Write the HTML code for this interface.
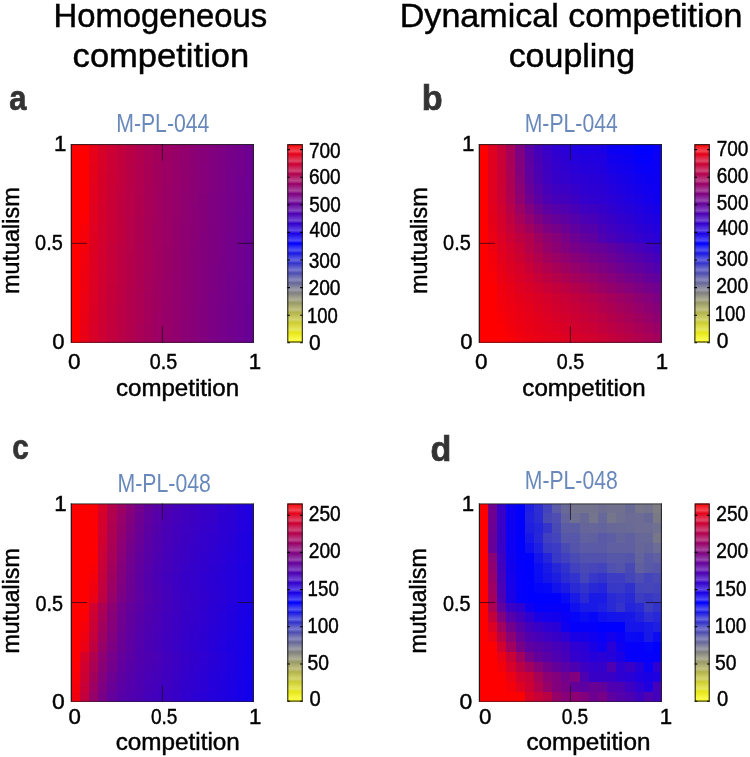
<!DOCTYPE html>
<html><head><meta charset="utf-8"><style>
html,body{margin:0;padding:0;background:#fff;}
svg{display:block;font-family:"Liberation Sans",sans-serif;will-change:transform;}
</style></head><body>
<svg width="750" height="757" viewBox="0 0 750 757">
<defs>
<linearGradient id="cb" x1="0" y1="1" x2="0" y2="0">
<stop offset="0" stop-color="rgb(255,255,0)"/><stop offset="0.25" stop-color="rgb(128,128,128)"/><stop offset="0.5" stop-color="rgb(0,0,255)"/><stop offset="1" stop-color="rgb(255,0,0)"/>
</linearGradient>
<linearGradient id="band" x1="0" y1="0" x2="0" y2="1">
<stop offset="0" stop-color="#fff" stop-opacity="0"/><stop offset="0.7" stop-color="#fff" stop-opacity="0.28"/><stop offset="1" stop-color="#fff" stop-opacity="0"/>
</linearGradient>
</defs>
<rect width="750" height="757" fill="#fff"/>
<text transform="translate(53.47,26.70) scale(1.0099,1)" font-size="32.54" fill="#000" font-weight="normal" stroke="#000" stroke-width="0.45">Homogeneous</text>
<text transform="translate(72.62,67.20) scale(1.0617,1)" font-size="32.54" fill="#000" font-weight="normal" stroke="#000" stroke-width="0.45">competition</text>
<text transform="translate(399.77,26.70) scale(1.0473,1)" font-size="32.54" fill="#000" font-weight="normal" stroke="#000" stroke-width="0.45">Dynamical competition</text>
<text transform="translate(508.64,67.20) scale(1.0441,1)" font-size="32.54" fill="#000" font-weight="normal" stroke="#000" stroke-width="0.45">coupling</text>
<text transform="translate(9.37,110.00) scale(0.8619,1)" font-size="36.00" fill="#333" font-weight="bold" stroke="#333" stroke-width="0.7">a</text>
<text transform="translate(421.77,110.00) scale(0.9930,1)" font-size="34.50" fill="#333" font-weight="bold" stroke="#333" stroke-width="0.7">b</text>
<text transform="translate(12.31,459.00) scale(0.8247,1)" font-size="36.00" fill="#333" font-weight="bold" stroke="#333" stroke-width="0.7">c</text>
<text transform="translate(430.44,461.00) scale(0.9872,1)" font-size="34.50" fill="#333" font-weight="bold" stroke="#333" stroke-width="0.7">d</text>
<text transform="translate(116.20,131.50) scale(0.8106,1)" font-size="26.20" fill="rgb(106,137,187)" font-weight="normal">M-PL-044</text>
<text transform="translate(524.70,131.70) scale(0.8097,1)" font-size="26.20" fill="rgb(106,137,187)" font-weight="normal">M-PL-044</text>
<text transform="translate(117.50,492.00) scale(0.8125,1)" font-size="26.20" fill="rgb(106,137,187)" font-weight="normal">M-PL-048</text>
<text transform="translate(524.81,489.30) scale(0.8081,1)" font-size="26.20" fill="rgb(106,137,187)" font-weight="normal">M-PL-048</text>
<g shape-rendering="crispEdges"><rect x="70.80" y="144.20" width="9.66" height="10.42" fill="rgb(255, 0, 0)"/><rect x="79.95" y="144.20" width="9.66" height="10.42" fill="rgb(255, 0, 0)"/><rect x="89.11" y="144.20" width="9.66" height="10.42" fill="rgb(231, 0, 24)"/><rect x="98.27" y="144.20" width="9.66" height="10.42" fill="rgb(215, 0, 40)"/><rect x="107.42" y="144.20" width="9.66" height="10.42" fill="rgb(204, 0, 51)"/><rect x="116.58" y="144.20" width="9.66" height="10.42" fill="rgb(194, 0, 61)"/><rect x="125.73" y="144.20" width="9.66" height="10.42" fill="rgb(185, 0, 70)"/><rect x="134.88" y="144.20" width="9.66" height="10.42" fill="rgb(177, 0, 78)"/><rect x="144.04" y="144.20" width="9.66" height="10.42" fill="rgb(170, 0, 85)"/><rect x="153.19" y="144.20" width="9.66" height="10.42" fill="rgb(163, 0, 92)"/><rect x="162.35" y="144.20" width="9.66" height="10.42" fill="rgb(157, 0, 98)"/><rect x="171.50" y="144.20" width="9.66" height="10.42" fill="rgb(151, 0, 104)"/><rect x="180.66" y="144.20" width="9.66" height="10.42" fill="rgb(145, 0, 110)"/><rect x="189.81" y="144.20" width="9.66" height="10.42" fill="rgb(139, 0, 116)"/><rect x="198.97" y="144.20" width="9.66" height="10.42" fill="rgb(134, 0, 121)"/><rect x="208.12" y="144.20" width="9.66" height="10.42" fill="rgb(129, 0, 126)"/><rect x="217.28" y="144.20" width="9.66" height="10.42" fill="rgb(124, 0, 131)"/><rect x="226.44" y="144.20" width="9.66" height="10.42" fill="rgb(119, 0, 136)"/><rect x="235.59" y="144.20" width="9.66" height="10.42" fill="rgb(114, 0, 141)"/><rect x="244.75" y="144.20" width="9.16" height="10.42" fill="rgb(110, 0, 145)"/><rect x="70.80" y="154.11" width="9.66" height="10.42" fill="rgb(255, 0, 0)"/><rect x="79.95" y="154.11" width="9.66" height="10.42" fill="rgb(255, 0, 0)"/><rect x="89.11" y="154.11" width="9.66" height="10.42" fill="rgb(230, 0, 25)"/><rect x="98.27" y="154.11" width="9.66" height="10.42" fill="rgb(215, 0, 40)"/><rect x="107.42" y="154.11" width="9.66" height="10.42" fill="rgb(203, 0, 52)"/><rect x="116.58" y="154.11" width="9.66" height="10.42" fill="rgb(193, 0, 62)"/><rect x="125.73" y="154.11" width="9.66" height="10.42" fill="rgb(185, 0, 70)"/><rect x="134.88" y="154.11" width="9.66" height="10.42" fill="rgb(177, 0, 78)"/><rect x="144.04" y="154.11" width="9.66" height="10.42" fill="rgb(170, 0, 85)"/><rect x="153.19" y="154.11" width="9.66" height="10.42" fill="rgb(163, 0, 92)"/><rect x="162.35" y="154.11" width="9.66" height="10.42" fill="rgb(156, 0, 99)"/><rect x="171.50" y="154.11" width="9.66" height="10.42" fill="rgb(150, 0, 105)"/><rect x="180.66" y="154.11" width="9.66" height="10.42" fill="rgb(145, 0, 110)"/><rect x="189.81" y="154.11" width="9.66" height="10.42" fill="rgb(139, 0, 116)"/><rect x="198.97" y="154.11" width="9.66" height="10.42" fill="rgb(134, 0, 121)"/><rect x="208.12" y="154.11" width="9.66" height="10.42" fill="rgb(128, 0, 127)"/><rect x="217.28" y="154.11" width="9.66" height="10.42" fill="rgb(124, 0, 131)"/><rect x="226.44" y="154.11" width="9.66" height="10.42" fill="rgb(119, 0, 136)"/><rect x="235.59" y="154.11" width="9.66" height="10.42" fill="rgb(114, 0, 141)"/><rect x="244.75" y="154.11" width="9.16" height="10.42" fill="rgb(109, 0, 146)"/><rect x="70.80" y="164.03" width="9.66" height="10.42" fill="rgb(255, 0, 0)"/><rect x="79.95" y="164.03" width="9.66" height="10.42" fill="rgb(255, 0, 0)"/><rect x="89.11" y="164.03" width="9.66" height="10.42" fill="rgb(229, 0, 26)"/><rect x="98.27" y="164.03" width="9.66" height="10.42" fill="rgb(214, 0, 41)"/><rect x="107.42" y="164.03" width="9.66" height="10.42" fill="rgb(203, 0, 52)"/><rect x="116.58" y="164.03" width="9.66" height="10.42" fill="rgb(193, 0, 62)"/><rect x="125.73" y="164.03" width="9.66" height="10.42" fill="rgb(184, 0, 71)"/><rect x="134.88" y="164.03" width="9.66" height="10.42" fill="rgb(176, 0, 79)"/><rect x="144.04" y="164.03" width="9.66" height="10.42" fill="rgb(169, 0, 86)"/><rect x="153.19" y="164.03" width="9.66" height="10.42" fill="rgb(162, 0, 93)"/><rect x="162.35" y="164.03" width="9.66" height="10.42" fill="rgb(156, 0, 99)"/><rect x="171.50" y="164.03" width="9.66" height="10.42" fill="rgb(150, 0, 105)"/><rect x="180.66" y="164.03" width="9.66" height="10.42" fill="rgb(144, 0, 111)"/><rect x="189.81" y="164.03" width="9.66" height="10.42" fill="rgb(139, 0, 116)"/><rect x="198.97" y="164.03" width="9.66" height="10.42" fill="rgb(133, 0, 122)"/><rect x="208.12" y="164.03" width="9.66" height="10.42" fill="rgb(128, 0, 127)"/><rect x="217.28" y="164.03" width="9.66" height="10.42" fill="rgb(123, 0, 132)"/><rect x="226.44" y="164.03" width="9.66" height="10.42" fill="rgb(118, 0, 137)"/><rect x="235.59" y="164.03" width="9.66" height="10.42" fill="rgb(114, 0, 141)"/><rect x="244.75" y="164.03" width="9.16" height="10.42" fill="rgb(109, 0, 146)"/><rect x="70.80" y="173.94" width="9.66" height="10.42" fill="rgb(255, 0, 0)"/><rect x="79.95" y="173.94" width="9.66" height="10.42" fill="rgb(255, 0, 0)"/><rect x="89.11" y="173.94" width="9.66" height="10.42" fill="rgb(228, 0, 27)"/><rect x="98.27" y="173.94" width="9.66" height="10.42" fill="rgb(213, 0, 42)"/><rect x="107.42" y="173.94" width="9.66" height="10.42" fill="rgb(202, 0, 53)"/><rect x="116.58" y="173.94" width="9.66" height="10.42" fill="rgb(192, 0, 63)"/><rect x="125.73" y="173.94" width="9.66" height="10.42" fill="rgb(184, 0, 71)"/><rect x="134.88" y="173.94" width="9.66" height="10.42" fill="rgb(176, 0, 79)"/><rect x="144.04" y="173.94" width="9.66" height="10.42" fill="rgb(169, 0, 86)"/><rect x="153.19" y="173.94" width="9.66" height="10.42" fill="rgb(162, 0, 93)"/><rect x="162.35" y="173.94" width="9.66" height="10.42" fill="rgb(156, 0, 99)"/><rect x="171.50" y="173.94" width="9.66" height="10.42" fill="rgb(150, 0, 105)"/><rect x="180.66" y="173.94" width="9.66" height="10.42" fill="rgb(144, 0, 111)"/><rect x="189.81" y="173.94" width="9.66" height="10.42" fill="rgb(138, 0, 117)"/><rect x="198.97" y="173.94" width="9.66" height="10.42" fill="rgb(133, 0, 122)"/><rect x="208.12" y="173.94" width="9.66" height="10.42" fill="rgb(128, 0, 127)"/><rect x="217.28" y="173.94" width="9.66" height="10.42" fill="rgb(123, 0, 132)"/><rect x="226.44" y="173.94" width="9.66" height="10.42" fill="rgb(118, 0, 137)"/><rect x="235.59" y="173.94" width="9.66" height="10.42" fill="rgb(113, 0, 142)"/><rect x="244.75" y="173.94" width="9.16" height="10.42" fill="rgb(109, 0, 146)"/><rect x="70.80" y="183.86" width="9.66" height="10.42" fill="rgb(255, 0, 0)"/><rect x="79.95" y="183.86" width="9.66" height="10.42" fill="rgb(255, 0, 0)"/><rect x="89.11" y="183.86" width="9.66" height="10.42" fill="rgb(227, 0, 28)"/><rect x="98.27" y="183.86" width="9.66" height="10.42" fill="rgb(213, 0, 42)"/><rect x="107.42" y="183.86" width="9.66" height="10.42" fill="rgb(201, 0, 54)"/><rect x="116.58" y="183.86" width="9.66" height="10.42" fill="rgb(192, 0, 63)"/><rect x="125.73" y="183.86" width="9.66" height="10.42" fill="rgb(183, 0, 72)"/><rect x="134.88" y="183.86" width="9.66" height="10.42" fill="rgb(176, 0, 79)"/><rect x="144.04" y="183.86" width="9.66" height="10.42" fill="rgb(168, 0, 87)"/><rect x="153.19" y="183.86" width="9.66" height="10.42" fill="rgb(162, 0, 93)"/><rect x="162.35" y="183.86" width="9.66" height="10.42" fill="rgb(155, 0, 100)"/><rect x="171.50" y="183.86" width="9.66" height="10.42" fill="rgb(149, 0, 106)"/><rect x="180.66" y="183.86" width="9.66" height="10.42" fill="rgb(144, 0, 111)"/><rect x="189.81" y="183.86" width="9.66" height="10.42" fill="rgb(138, 0, 117)"/><rect x="198.97" y="183.86" width="9.66" height="10.42" fill="rgb(133, 0, 122)"/><rect x="208.12" y="183.86" width="9.66" height="10.42" fill="rgb(128, 0, 127)"/><rect x="217.28" y="183.86" width="9.66" height="10.42" fill="rgb(123, 0, 132)"/><rect x="226.44" y="183.86" width="9.66" height="10.42" fill="rgb(118, 0, 137)"/><rect x="235.59" y="183.86" width="9.66" height="10.42" fill="rgb(113, 0, 142)"/><rect x="244.75" y="183.86" width="9.16" height="10.42" fill="rgb(109, 0, 146)"/><rect x="70.80" y="193.77" width="9.66" height="10.42" fill="rgb(255, 0, 0)"/><rect x="79.95" y="193.77" width="9.66" height="10.42" fill="rgb(255, 0, 0)"/><rect x="89.11" y="193.77" width="9.66" height="10.42" fill="rgb(226, 0, 29)"/><rect x="98.27" y="193.77" width="9.66" height="10.42" fill="rgb(212, 0, 43)"/><rect x="107.42" y="193.77" width="9.66" height="10.42" fill="rgb(201, 0, 54)"/><rect x="116.58" y="193.77" width="9.66" height="10.42" fill="rgb(191, 0, 64)"/><rect x="125.73" y="193.77" width="9.66" height="10.42" fill="rgb(183, 0, 72)"/><rect x="134.88" y="193.77" width="9.66" height="10.42" fill="rgb(175, 0, 80)"/><rect x="144.04" y="193.77" width="9.66" height="10.42" fill="rgb(168, 0, 87)"/><rect x="153.19" y="193.77" width="9.66" height="10.42" fill="rgb(161, 0, 94)"/><rect x="162.35" y="193.77" width="9.66" height="10.42" fill="rgb(155, 0, 100)"/><rect x="171.50" y="193.77" width="9.66" height="10.42" fill="rgb(149, 0, 106)"/><rect x="180.66" y="193.77" width="9.66" height="10.42" fill="rgb(143, 0, 112)"/><rect x="189.81" y="193.77" width="9.66" height="10.42" fill="rgb(138, 0, 117)"/><rect x="198.97" y="193.77" width="9.66" height="10.42" fill="rgb(132, 0, 123)"/><rect x="208.12" y="193.77" width="9.66" height="10.42" fill="rgb(127, 0, 128)"/><rect x="217.28" y="193.77" width="9.66" height="10.42" fill="rgb(122, 0, 133)"/><rect x="226.44" y="193.77" width="9.66" height="10.42" fill="rgb(118, 0, 137)"/><rect x="235.59" y="193.77" width="9.66" height="10.42" fill="rgb(113, 0, 142)"/><rect x="244.75" y="193.77" width="9.16" height="10.42" fill="rgb(108, 0, 147)"/><rect x="70.80" y="203.69" width="9.66" height="10.42" fill="rgb(255, 0, 0)"/><rect x="79.95" y="203.69" width="9.66" height="10.42" fill="rgb(255, 0, 0)"/><rect x="89.11" y="203.69" width="9.66" height="10.42" fill="rgb(225, 0, 30)"/><rect x="98.27" y="203.69" width="9.66" height="10.42" fill="rgb(211, 0, 44)"/><rect x="107.42" y="203.69" width="9.66" height="10.42" fill="rgb(200, 0, 55)"/><rect x="116.58" y="203.69" width="9.66" height="10.42" fill="rgb(191, 0, 64)"/><rect x="125.73" y="203.69" width="9.66" height="10.42" fill="rgb(183, 0, 72)"/><rect x="134.88" y="203.69" width="9.66" height="10.42" fill="rgb(175, 0, 80)"/><rect x="144.04" y="203.69" width="9.66" height="10.42" fill="rgb(168, 0, 87)"/><rect x="153.19" y="203.69" width="9.66" height="10.42" fill="rgb(161, 0, 94)"/><rect x="162.35" y="203.69" width="9.66" height="10.42" fill="rgb(155, 0, 100)"/><rect x="171.50" y="203.69" width="9.66" height="10.42" fill="rgb(149, 0, 106)"/><rect x="180.66" y="203.69" width="9.66" height="10.42" fill="rgb(143, 0, 112)"/><rect x="189.81" y="203.69" width="9.66" height="10.42" fill="rgb(137, 0, 118)"/><rect x="198.97" y="203.69" width="9.66" height="10.42" fill="rgb(132, 0, 123)"/><rect x="208.12" y="203.69" width="9.66" height="10.42" fill="rgb(127, 0, 128)"/><rect x="217.28" y="203.69" width="9.66" height="10.42" fill="rgb(122, 0, 133)"/><rect x="226.44" y="203.69" width="9.66" height="10.42" fill="rgb(117, 0, 138)"/><rect x="235.59" y="203.69" width="9.66" height="10.42" fill="rgb(113, 0, 142)"/><rect x="244.75" y="203.69" width="9.16" height="10.42" fill="rgb(108, 0, 147)"/><rect x="70.80" y="213.60" width="9.66" height="10.42" fill="rgb(255, 0, 0)"/><rect x="79.95" y="213.60" width="9.66" height="10.42" fill="rgb(252, 0, 3)"/><rect x="89.11" y="213.60" width="9.66" height="10.42" fill="rgb(225, 0, 30)"/><rect x="98.27" y="213.60" width="9.66" height="10.42" fill="rgb(211, 0, 44)"/><rect x="107.42" y="213.60" width="9.66" height="10.42" fill="rgb(200, 0, 55)"/><rect x="116.58" y="213.60" width="9.66" height="10.42" fill="rgb(190, 0, 65)"/><rect x="125.73" y="213.60" width="9.66" height="10.42" fill="rgb(182, 0, 73)"/><rect x="134.88" y="213.60" width="9.66" height="10.42" fill="rgb(174, 0, 81)"/><rect x="144.04" y="213.60" width="9.66" height="10.42" fill="rgb(167, 0, 88)"/><rect x="153.19" y="213.60" width="9.66" height="10.42" fill="rgb(161, 0, 94)"/><rect x="162.35" y="213.60" width="9.66" height="10.42" fill="rgb(154, 0, 101)"/><rect x="171.50" y="213.60" width="9.66" height="10.42" fill="rgb(148, 0, 107)"/><rect x="180.66" y="213.60" width="9.66" height="10.42" fill="rgb(143, 0, 112)"/><rect x="189.81" y="213.60" width="9.66" height="10.42" fill="rgb(137, 0, 118)"/><rect x="198.97" y="213.60" width="9.66" height="10.42" fill="rgb(132, 0, 123)"/><rect x="208.12" y="213.60" width="9.66" height="10.42" fill="rgb(127, 0, 128)"/><rect x="217.28" y="213.60" width="9.66" height="10.42" fill="rgb(122, 0, 133)"/><rect x="226.44" y="213.60" width="9.66" height="10.42" fill="rgb(117, 0, 138)"/><rect x="235.59" y="213.60" width="9.66" height="10.42" fill="rgb(112, 0, 143)"/><rect x="244.75" y="213.60" width="9.16" height="10.42" fill="rgb(108, 0, 147)"/><rect x="70.80" y="223.52" width="9.66" height="10.42" fill="rgb(255, 0, 0)"/><rect x="79.95" y="223.52" width="9.66" height="10.42" fill="rgb(248, 0, 7)"/><rect x="89.11" y="223.52" width="9.66" height="10.42" fill="rgb(224, 0, 31)"/><rect x="98.27" y="223.52" width="9.66" height="10.42" fill="rgb(210, 0, 45)"/><rect x="107.42" y="223.52" width="9.66" height="10.42" fill="rgb(199, 0, 56)"/><rect x="116.58" y="223.52" width="9.66" height="10.42" fill="rgb(190, 0, 65)"/><rect x="125.73" y="223.52" width="9.66" height="10.42" fill="rgb(182, 0, 73)"/><rect x="134.88" y="223.52" width="9.66" height="10.42" fill="rgb(174, 0, 81)"/><rect x="144.04" y="223.52" width="9.66" height="10.42" fill="rgb(167, 0, 88)"/><rect x="153.19" y="223.52" width="9.66" height="10.42" fill="rgb(160, 0, 95)"/><rect x="162.35" y="223.52" width="9.66" height="10.42" fill="rgb(154, 0, 101)"/><rect x="171.50" y="223.52" width="9.66" height="10.42" fill="rgb(148, 0, 107)"/><rect x="180.66" y="223.52" width="9.66" height="10.42" fill="rgb(142, 0, 113)"/><rect x="189.81" y="223.52" width="9.66" height="10.42" fill="rgb(137, 0, 118)"/><rect x="198.97" y="223.52" width="9.66" height="10.42" fill="rgb(132, 0, 123)"/><rect x="208.12" y="223.52" width="9.66" height="10.42" fill="rgb(126, 0, 129)"/><rect x="217.28" y="223.52" width="9.66" height="10.42" fill="rgb(122, 0, 133)"/><rect x="226.44" y="223.52" width="9.66" height="10.42" fill="rgb(117, 0, 138)"/><rect x="235.59" y="223.52" width="9.66" height="10.42" fill="rgb(112, 0, 143)"/><rect x="244.75" y="223.52" width="9.16" height="10.42" fill="rgb(108, 0, 147)"/><rect x="70.80" y="233.44" width="9.66" height="10.42" fill="rgb(255, 0, 0)"/><rect x="79.95" y="233.44" width="9.66" height="10.42" fill="rgb(246, 0, 9)"/><rect x="89.11" y="233.44" width="9.66" height="10.42" fill="rgb(223, 0, 32)"/><rect x="98.27" y="233.44" width="9.66" height="10.42" fill="rgb(210, 0, 45)"/><rect x="107.42" y="233.44" width="9.66" height="10.42" fill="rgb(199, 0, 56)"/><rect x="116.58" y="233.44" width="9.66" height="10.42" fill="rgb(190, 0, 65)"/><rect x="125.73" y="233.44" width="9.66" height="10.42" fill="rgb(181, 0, 74)"/><rect x="134.88" y="233.44" width="9.66" height="10.42" fill="rgb(174, 0, 81)"/><rect x="144.04" y="233.44" width="9.66" height="10.42" fill="rgb(167, 0, 88)"/><rect x="153.19" y="233.44" width="9.66" height="10.42" fill="rgb(160, 0, 95)"/><rect x="162.35" y="233.44" width="9.66" height="10.42" fill="rgb(154, 0, 101)"/><rect x="171.50" y="233.44" width="9.66" height="10.42" fill="rgb(148, 0, 107)"/><rect x="180.66" y="233.44" width="9.66" height="10.42" fill="rgb(142, 0, 113)"/><rect x="189.81" y="233.44" width="9.66" height="10.42" fill="rgb(137, 0, 118)"/><rect x="198.97" y="233.44" width="9.66" height="10.42" fill="rgb(131, 0, 124)"/><rect x="208.12" y="233.44" width="9.66" height="10.42" fill="rgb(126, 0, 129)"/><rect x="217.28" y="233.44" width="9.66" height="10.42" fill="rgb(121, 0, 134)"/><rect x="226.44" y="233.44" width="9.66" height="10.42" fill="rgb(116, 0, 139)"/><rect x="235.59" y="233.44" width="9.66" height="10.42" fill="rgb(112, 0, 143)"/><rect x="244.75" y="233.44" width="9.16" height="10.42" fill="rgb(107, 0, 148)"/><rect x="70.80" y="243.35" width="9.66" height="10.42" fill="rgb(255, 0, 0)"/><rect x="79.95" y="243.35" width="9.66" height="10.42" fill="rgb(244, 0, 11)"/><rect x="89.11" y="243.35" width="9.66" height="10.42" fill="rgb(222, 0, 33)"/><rect x="98.27" y="243.35" width="9.66" height="10.42" fill="rgb(209, 0, 46)"/><rect x="107.42" y="243.35" width="9.66" height="10.42" fill="rgb(198, 0, 57)"/><rect x="116.58" y="243.35" width="9.66" height="10.42" fill="rgb(189, 0, 66)"/><rect x="125.73" y="243.35" width="9.66" height="10.42" fill="rgb(181, 0, 74)"/><rect x="134.88" y="243.35" width="9.66" height="10.42" fill="rgb(173, 0, 82)"/><rect x="144.04" y="243.35" width="9.66" height="10.42" fill="rgb(166, 0, 89)"/><rect x="153.19" y="243.35" width="9.66" height="10.42" fill="rgb(160, 0, 95)"/><rect x="162.35" y="243.35" width="9.66" height="10.42" fill="rgb(153, 0, 102)"/><rect x="171.50" y="243.35" width="9.66" height="10.42" fill="rgb(147, 0, 108)"/><rect x="180.66" y="243.35" width="9.66" height="10.42" fill="rgb(142, 0, 113)"/><rect x="189.81" y="243.35" width="9.66" height="10.42" fill="rgb(136, 0, 119)"/><rect x="198.97" y="243.35" width="9.66" height="10.42" fill="rgb(131, 0, 124)"/><rect x="208.12" y="243.35" width="9.66" height="10.42" fill="rgb(126, 0, 129)"/><rect x="217.28" y="243.35" width="9.66" height="10.42" fill="rgb(121, 0, 134)"/><rect x="226.44" y="243.35" width="9.66" height="10.42" fill="rgb(116, 0, 139)"/><rect x="235.59" y="243.35" width="9.66" height="10.42" fill="rgb(112, 0, 143)"/><rect x="244.75" y="243.35" width="9.16" height="10.42" fill="rgb(107, 0, 148)"/><rect x="70.80" y="253.26" width="9.66" height="10.42" fill="rgb(255, 0, 0)"/><rect x="79.95" y="253.26" width="9.66" height="10.42" fill="rgb(242, 0, 13)"/><rect x="89.11" y="253.26" width="9.66" height="10.42" fill="rgb(221, 0, 34)"/><rect x="98.27" y="253.26" width="9.66" height="10.42" fill="rgb(208, 0, 47)"/><rect x="107.42" y="253.26" width="9.66" height="10.42" fill="rgb(198, 0, 57)"/><rect x="116.58" y="253.26" width="9.66" height="10.42" fill="rgb(189, 0, 66)"/><rect x="125.73" y="253.26" width="9.66" height="10.42" fill="rgb(180, 0, 75)"/><rect x="134.88" y="253.26" width="9.66" height="10.42" fill="rgb(173, 0, 82)"/><rect x="144.04" y="253.26" width="9.66" height="10.42" fill="rgb(166, 0, 89)"/><rect x="153.19" y="253.26" width="9.66" height="10.42" fill="rgb(159, 0, 96)"/><rect x="162.35" y="253.26" width="9.66" height="10.42" fill="rgb(153, 0, 102)"/><rect x="171.50" y="253.26" width="9.66" height="10.42" fill="rgb(147, 0, 108)"/><rect x="180.66" y="253.26" width="9.66" height="10.42" fill="rgb(141, 0, 114)"/><rect x="189.81" y="253.26" width="9.66" height="10.42" fill="rgb(136, 0, 119)"/><rect x="198.97" y="253.26" width="9.66" height="10.42" fill="rgb(131, 0, 124)"/><rect x="208.12" y="253.26" width="9.66" height="10.42" fill="rgb(126, 0, 129)"/><rect x="217.28" y="253.26" width="9.66" height="10.42" fill="rgb(121, 0, 134)"/><rect x="226.44" y="253.26" width="9.66" height="10.42" fill="rgb(116, 0, 139)"/><rect x="235.59" y="253.26" width="9.66" height="10.42" fill="rgb(111, 0, 144)"/><rect x="244.75" y="253.26" width="9.16" height="10.42" fill="rgb(107, 0, 148)"/><rect x="70.80" y="263.18" width="9.66" height="10.42" fill="rgb(255, 0, 0)"/><rect x="79.95" y="263.18" width="9.66" height="10.42" fill="rgb(240, 0, 15)"/><rect x="89.11" y="263.18" width="9.66" height="10.42" fill="rgb(221, 0, 34)"/><rect x="98.27" y="263.18" width="9.66" height="10.42" fill="rgb(208, 0, 47)"/><rect x="107.42" y="263.18" width="9.66" height="10.42" fill="rgb(197, 0, 58)"/><rect x="116.58" y="263.18" width="9.66" height="10.42" fill="rgb(188, 0, 67)"/><rect x="125.73" y="263.18" width="9.66" height="10.42" fill="rgb(180, 0, 75)"/><rect x="134.88" y="263.18" width="9.66" height="10.42" fill="rgb(172, 0, 83)"/><rect x="144.04" y="263.18" width="9.66" height="10.42" fill="rgb(166, 0, 89)"/><rect x="153.19" y="263.18" width="9.66" height="10.42" fill="rgb(159, 0, 96)"/><rect x="162.35" y="263.18" width="9.66" height="10.42" fill="rgb(153, 0, 102)"/><rect x="171.50" y="263.18" width="9.66" height="10.42" fill="rgb(147, 0, 108)"/><rect x="180.66" y="263.18" width="9.66" height="10.42" fill="rgb(141, 0, 114)"/><rect x="189.81" y="263.18" width="9.66" height="10.42" fill="rgb(136, 0, 119)"/><rect x="198.97" y="263.18" width="9.66" height="10.42" fill="rgb(130, 0, 125)"/><rect x="208.12" y="263.18" width="9.66" height="10.42" fill="rgb(125, 0, 130)"/><rect x="217.28" y="263.18" width="9.66" height="10.42" fill="rgb(120, 0, 135)"/><rect x="226.44" y="263.18" width="9.66" height="10.42" fill="rgb(116, 0, 139)"/><rect x="235.59" y="263.18" width="9.66" height="10.42" fill="rgb(111, 0, 144)"/><rect x="244.75" y="263.18" width="9.16" height="10.42" fill="rgb(106, 0, 149)"/><rect x="70.80" y="273.10" width="9.66" height="10.42" fill="rgb(255, 0, 0)"/><rect x="79.95" y="273.10" width="9.66" height="10.42" fill="rgb(239, 0, 16)"/><rect x="89.11" y="273.10" width="9.66" height="10.42" fill="rgb(220, 0, 35)"/><rect x="98.27" y="273.10" width="9.66" height="10.42" fill="rgb(207, 0, 48)"/><rect x="107.42" y="273.10" width="9.66" height="10.42" fill="rgb(197, 0, 58)"/><rect x="116.58" y="273.10" width="9.66" height="10.42" fill="rgb(188, 0, 67)"/><rect x="125.73" y="273.10" width="9.66" height="10.42" fill="rgb(180, 0, 75)"/><rect x="134.88" y="273.10" width="9.66" height="10.42" fill="rgb(172, 0, 83)"/><rect x="144.04" y="273.10" width="9.66" height="10.42" fill="rgb(165, 0, 90)"/><rect x="153.19" y="273.10" width="9.66" height="10.42" fill="rgb(159, 0, 96)"/><rect x="162.35" y="273.10" width="9.66" height="10.42" fill="rgb(152, 0, 103)"/><rect x="171.50" y="273.10" width="9.66" height="10.42" fill="rgb(146, 0, 109)"/><rect x="180.66" y="273.10" width="9.66" height="10.42" fill="rgb(141, 0, 114)"/><rect x="189.81" y="273.10" width="9.66" height="10.42" fill="rgb(135, 0, 120)"/><rect x="198.97" y="273.10" width="9.66" height="10.42" fill="rgb(130, 0, 125)"/><rect x="208.12" y="273.10" width="9.66" height="10.42" fill="rgb(125, 0, 130)"/><rect x="217.28" y="273.10" width="9.66" height="10.42" fill="rgb(120, 0, 135)"/><rect x="226.44" y="273.10" width="9.66" height="10.42" fill="rgb(115, 0, 140)"/><rect x="235.59" y="273.10" width="9.66" height="10.42" fill="rgb(111, 0, 144)"/><rect x="244.75" y="273.10" width="9.16" height="10.42" fill="rgb(106, 0, 149)"/><rect x="70.80" y="283.01" width="9.66" height="10.42" fill="rgb(255, 0, 0)"/><rect x="79.95" y="283.01" width="9.66" height="10.42" fill="rgb(238, 0, 17)"/><rect x="89.11" y="283.01" width="9.66" height="10.42" fill="rgb(219, 0, 36)"/><rect x="98.27" y="283.01" width="9.66" height="10.42" fill="rgb(207, 0, 48)"/><rect x="107.42" y="283.01" width="9.66" height="10.42" fill="rgb(196, 0, 59)"/><rect x="116.58" y="283.01" width="9.66" height="10.42" fill="rgb(187, 0, 68)"/><rect x="125.73" y="283.01" width="9.66" height="10.42" fill="rgb(179, 0, 76)"/><rect x="134.88" y="283.01" width="9.66" height="10.42" fill="rgb(172, 0, 83)"/><rect x="144.04" y="283.01" width="9.66" height="10.42" fill="rgb(165, 0, 90)"/><rect x="153.19" y="283.01" width="9.66" height="10.42" fill="rgb(158, 0, 97)"/><rect x="162.35" y="283.01" width="9.66" height="10.42" fill="rgb(152, 0, 103)"/><rect x="171.50" y="283.01" width="9.66" height="10.42" fill="rgb(146, 0, 109)"/><rect x="180.66" y="283.01" width="9.66" height="10.42" fill="rgb(140, 0, 115)"/><rect x="189.81" y="283.01" width="9.66" height="10.42" fill="rgb(135, 0, 120)"/><rect x="198.97" y="283.01" width="9.66" height="10.42" fill="rgb(130, 0, 125)"/><rect x="208.12" y="283.01" width="9.66" height="10.42" fill="rgb(125, 0, 130)"/><rect x="217.28" y="283.01" width="9.66" height="10.42" fill="rgb(120, 0, 135)"/><rect x="226.44" y="283.01" width="9.66" height="10.42" fill="rgb(115, 0, 140)"/><rect x="235.59" y="283.01" width="9.66" height="10.42" fill="rgb(110, 0, 145)"/><rect x="244.75" y="283.01" width="9.16" height="10.42" fill="rgb(106, 0, 149)"/><rect x="70.80" y="292.93" width="9.66" height="10.42" fill="rgb(255, 0, 0)"/><rect x="79.95" y="292.93" width="9.66" height="10.42" fill="rgb(236, 0, 19)"/><rect x="89.11" y="292.93" width="9.66" height="10.42" fill="rgb(219, 0, 36)"/><rect x="98.27" y="292.93" width="9.66" height="10.42" fill="rgb(206, 0, 49)"/><rect x="107.42" y="292.93" width="9.66" height="10.42" fill="rgb(196, 0, 59)"/><rect x="116.58" y="292.93" width="9.66" height="10.42" fill="rgb(187, 0, 68)"/><rect x="125.73" y="292.93" width="9.66" height="10.42" fill="rgb(179, 0, 76)"/><rect x="134.88" y="292.93" width="9.66" height="10.42" fill="rgb(171, 0, 84)"/><rect x="144.04" y="292.93" width="9.66" height="10.42" fill="rgb(164, 0, 91)"/><rect x="153.19" y="292.93" width="9.66" height="10.42" fill="rgb(158, 0, 97)"/><rect x="162.35" y="292.93" width="9.66" height="10.42" fill="rgb(152, 0, 103)"/><rect x="171.50" y="292.93" width="9.66" height="10.42" fill="rgb(146, 0, 109)"/><rect x="180.66" y="292.93" width="9.66" height="10.42" fill="rgb(140, 0, 115)"/><rect x="189.81" y="292.93" width="9.66" height="10.42" fill="rgb(135, 0, 120)"/><rect x="198.97" y="292.93" width="9.66" height="10.42" fill="rgb(130, 0, 125)"/><rect x="208.12" y="292.93" width="9.66" height="10.42" fill="rgb(124, 0, 131)"/><rect x="217.28" y="292.93" width="9.66" height="10.42" fill="rgb(120, 0, 135)"/><rect x="226.44" y="292.93" width="9.66" height="10.42" fill="rgb(115, 0, 140)"/><rect x="235.59" y="292.93" width="9.66" height="10.42" fill="rgb(110, 0, 145)"/><rect x="244.75" y="292.93" width="9.16" height="10.42" fill="rgb(106, 0, 149)"/><rect x="70.80" y="302.84" width="9.66" height="10.42" fill="rgb(255, 0, 0)"/><rect x="79.95" y="302.84" width="9.66" height="10.42" fill="rgb(235, 0, 20)"/><rect x="89.11" y="302.84" width="9.66" height="10.42" fill="rgb(218, 0, 37)"/><rect x="98.27" y="302.84" width="9.66" height="10.42" fill="rgb(206, 0, 49)"/><rect x="107.42" y="302.84" width="9.66" height="10.42" fill="rgb(195, 0, 60)"/><rect x="116.58" y="302.84" width="9.66" height="10.42" fill="rgb(186, 0, 69)"/><rect x="125.73" y="302.84" width="9.66" height="10.42" fill="rgb(178, 0, 77)"/><rect x="134.88" y="302.84" width="9.66" height="10.42" fill="rgb(171, 0, 84)"/><rect x="144.04" y="302.84" width="9.66" height="10.42" fill="rgb(164, 0, 91)"/><rect x="153.19" y="302.84" width="9.66" height="10.42" fill="rgb(158, 0, 97)"/><rect x="162.35" y="302.84" width="9.66" height="10.42" fill="rgb(151, 0, 104)"/><rect x="171.50" y="302.84" width="9.66" height="10.42" fill="rgb(145, 0, 110)"/><rect x="180.66" y="302.84" width="9.66" height="10.42" fill="rgb(140, 0, 115)"/><rect x="189.81" y="302.84" width="9.66" height="10.42" fill="rgb(134, 0, 121)"/><rect x="198.97" y="302.84" width="9.66" height="10.42" fill="rgb(129, 0, 126)"/><rect x="208.12" y="302.84" width="9.66" height="10.42" fill="rgb(124, 0, 131)"/><rect x="217.28" y="302.84" width="9.66" height="10.42" fill="rgb(119, 0, 136)"/><rect x="226.44" y="302.84" width="9.66" height="10.42" fill="rgb(114, 0, 141)"/><rect x="235.59" y="302.84" width="9.66" height="10.42" fill="rgb(110, 0, 145)"/><rect x="244.75" y="302.84" width="9.16" height="10.42" fill="rgb(105, 0, 150)"/><rect x="70.80" y="312.75" width="9.66" height="10.42" fill="rgb(255, 0, 0)"/><rect x="79.95" y="312.75" width="9.66" height="10.42" fill="rgb(234, 0, 21)"/><rect x="89.11" y="312.75" width="9.66" height="10.42" fill="rgb(217, 0, 38)"/><rect x="98.27" y="312.75" width="9.66" height="10.42" fill="rgb(205, 0, 50)"/><rect x="107.42" y="312.75" width="9.66" height="10.42" fill="rgb(195, 0, 60)"/><rect x="116.58" y="312.75" width="9.66" height="10.42" fill="rgb(186, 0, 69)"/><rect x="125.73" y="312.75" width="9.66" height="10.42" fill="rgb(178, 0, 77)"/><rect x="134.88" y="312.75" width="9.66" height="10.42" fill="rgb(171, 0, 84)"/><rect x="144.04" y="312.75" width="9.66" height="10.42" fill="rgb(164, 0, 91)"/><rect x="153.19" y="312.75" width="9.66" height="10.42" fill="rgb(157, 0, 98)"/><rect x="162.35" y="312.75" width="9.66" height="10.42" fill="rgb(151, 0, 104)"/><rect x="171.50" y="312.75" width="9.66" height="10.42" fill="rgb(145, 0, 110)"/><rect x="180.66" y="312.75" width="9.66" height="10.42" fill="rgb(140, 0, 115)"/><rect x="189.81" y="312.75" width="9.66" height="10.42" fill="rgb(134, 0, 121)"/><rect x="198.97" y="312.75" width="9.66" height="10.42" fill="rgb(129, 0, 126)"/><rect x="208.12" y="312.75" width="9.66" height="10.42" fill="rgb(124, 0, 131)"/><rect x="217.28" y="312.75" width="9.66" height="10.42" fill="rgb(119, 0, 136)"/><rect x="226.44" y="312.75" width="9.66" height="10.42" fill="rgb(114, 0, 141)"/><rect x="235.59" y="312.75" width="9.66" height="10.42" fill="rgb(110, 0, 145)"/><rect x="244.75" y="312.75" width="9.16" height="10.42" fill="rgb(105, 0, 150)"/><rect x="70.80" y="322.67" width="9.66" height="10.42" fill="rgb(255, 0, 0)"/><rect x="79.95" y="322.67" width="9.66" height="10.42" fill="rgb(233, 0, 22)"/><rect x="89.11" y="322.67" width="9.66" height="10.42" fill="rgb(216, 0, 39)"/><rect x="98.27" y="322.67" width="9.66" height="10.42" fill="rgb(204, 0, 51)"/><rect x="107.42" y="322.67" width="9.66" height="10.42" fill="rgb(194, 0, 61)"/><rect x="116.58" y="322.67" width="9.66" height="10.42" fill="rgb(186, 0, 69)"/><rect x="125.73" y="322.67" width="9.66" height="10.42" fill="rgb(178, 0, 77)"/><rect x="134.88" y="322.67" width="9.66" height="10.42" fill="rgb(170, 0, 85)"/><rect x="144.04" y="322.67" width="9.66" height="10.42" fill="rgb(163, 0, 92)"/><rect x="153.19" y="322.67" width="9.66" height="10.42" fill="rgb(157, 0, 98)"/><rect x="162.35" y="322.67" width="9.66" height="10.42" fill="rgb(151, 0, 104)"/><rect x="171.50" y="322.67" width="9.66" height="10.42" fill="rgb(145, 0, 110)"/><rect x="180.66" y="322.67" width="9.66" height="10.42" fill="rgb(139, 0, 116)"/><rect x="189.81" y="322.67" width="9.66" height="10.42" fill="rgb(134, 0, 121)"/><rect x="198.97" y="322.67" width="9.66" height="10.42" fill="rgb(129, 0, 126)"/><rect x="208.12" y="322.67" width="9.66" height="10.42" fill="rgb(124, 0, 131)"/><rect x="217.28" y="322.67" width="9.66" height="10.42" fill="rgb(119, 0, 136)"/><rect x="226.44" y="322.67" width="9.66" height="10.42" fill="rgb(114, 0, 141)"/><rect x="235.59" y="322.67" width="9.66" height="10.42" fill="rgb(109, 0, 146)"/><rect x="244.75" y="322.67" width="9.16" height="10.42" fill="rgb(105, 0, 150)"/><rect x="70.80" y="332.59" width="9.66" height="9.92" fill="rgb(255, 0, 0)"/><rect x="79.95" y="332.59" width="9.66" height="9.92" fill="rgb(232, 0, 23)"/><rect x="89.11" y="332.59" width="9.66" height="9.92" fill="rgb(216, 0, 39)"/><rect x="98.27" y="332.59" width="9.66" height="9.92" fill="rgb(204, 0, 51)"/><rect x="107.42" y="332.59" width="9.66" height="9.92" fill="rgb(194, 0, 61)"/><rect x="116.58" y="332.59" width="9.66" height="9.92" fill="rgb(185, 0, 70)"/><rect x="125.73" y="332.59" width="9.66" height="9.92" fill="rgb(177, 0, 78)"/><rect x="134.88" y="332.59" width="9.66" height="9.92" fill="rgb(170, 0, 85)"/><rect x="144.04" y="332.59" width="9.66" height="9.92" fill="rgb(163, 0, 92)"/><rect x="153.19" y="332.59" width="9.66" height="9.92" fill="rgb(157, 0, 98)"/><rect x="162.35" y="332.59" width="9.66" height="9.92" fill="rgb(150, 0, 105)"/><rect x="171.50" y="332.59" width="9.66" height="9.92" fill="rgb(145, 0, 110)"/><rect x="180.66" y="332.59" width="9.66" height="9.92" fill="rgb(139, 0, 116)"/><rect x="189.81" y="332.59" width="9.66" height="9.92" fill="rgb(134, 0, 121)"/><rect x="198.97" y="332.59" width="9.66" height="9.92" fill="rgb(128, 0, 127)"/><rect x="208.12" y="332.59" width="9.66" height="9.92" fill="rgb(123, 0, 132)"/><rect x="217.28" y="332.59" width="9.66" height="9.92" fill="rgb(118, 0, 137)"/><rect x="226.44" y="332.59" width="9.66" height="9.92" fill="rgb(114, 0, 141)"/><rect x="235.59" y="332.59" width="9.66" height="9.92" fill="rgb(109, 0, 146)"/><rect x="244.75" y="332.59" width="9.16" height="9.92" fill="rgb(105, 0, 150)"/></g>
<path d="M71.3 144.2V342.5" stroke="#1a1a1a" stroke-width="1.2" fill="none"/><path d="M70.8 144.6H253.9" stroke="#222" stroke-width="0.9" fill="none"/><path d="M253.3 144.2V342.5" stroke="#222" stroke-width="1.0" fill="none"/><path d="M70.8 342.3H253.9" stroke="#222" stroke-width="0.6" fill="none"/>
<path d="M162.35 144.2v16.3M162.35 342.5v-16.3M71.39999999999999 243.35h15.700000000000001M253.3 243.35h-15.700000000000001" stroke="#1a0a1a" stroke-width="0.75" fill="none"/>
<rect x="287.3" y="144.2" width="15.5" height="198.3" fill="url(#cb)"/>
<rect x="287.3" y="144.20" width="15.5" height="9.92" fill="url(#band)"/><rect x="287.3" y="154.11" width="15.5" height="9.92" fill="url(#band)"/><rect x="287.3" y="164.03" width="15.5" height="9.92" fill="url(#band)"/><rect x="287.3" y="173.94" width="15.5" height="9.92" fill="url(#band)"/><rect x="287.3" y="183.86" width="15.5" height="9.92" fill="url(#band)"/><rect x="287.3" y="193.77" width="15.5" height="9.92" fill="url(#band)"/><rect x="287.3" y="203.69" width="15.5" height="9.92" fill="url(#band)"/><rect x="287.3" y="213.60" width="15.5" height="9.92" fill="url(#band)"/><rect x="287.3" y="223.52" width="15.5" height="9.92" fill="url(#band)"/><rect x="287.3" y="233.44" width="15.5" height="9.92" fill="url(#band)"/><rect x="287.3" y="243.35" width="15.5" height="9.92" fill="url(#band)"/><rect x="287.3" y="253.26" width="15.5" height="9.92" fill="url(#band)"/><rect x="287.3" y="263.18" width="15.5" height="9.92" fill="url(#band)"/><rect x="287.3" y="273.10" width="15.5" height="9.92" fill="url(#band)"/><rect x="287.3" y="283.01" width="15.5" height="9.92" fill="url(#band)"/><rect x="287.3" y="292.93" width="15.5" height="9.92" fill="url(#band)"/><rect x="287.3" y="302.84" width="15.5" height="9.92" fill="url(#band)"/><rect x="287.3" y="312.75" width="15.5" height="9.92" fill="url(#band)"/><rect x="287.3" y="322.67" width="15.5" height="9.92" fill="url(#band)"/><rect x="287.3" y="332.59" width="15.5" height="9.92" fill="url(#band)"/><rect x="287.8" y="144.7" width="14.5" height="197.3" fill="none" stroke="#181818" stroke-width="1.0"/>
<text transform="translate(309.06,349.60) scale(0.9436,1)" font-size="22.30" fill="#000" font-weight="normal" stroke="#000" stroke-width="0.45">0</text>
<text transform="translate(307.01,322.80) scale(0.8305,1)" font-size="22.30" fill="#000" font-weight="normal" stroke="#000" stroke-width="0.45">100</text>
<text transform="translate(308.44,294.70) scale(0.8628,1)" font-size="22.30" fill="#000" font-weight="normal" stroke="#000" stroke-width="0.45">200</text>
<text transform="translate(308.64,268.10) scale(0.8574,1)" font-size="22.30" fill="#000" font-weight="normal" stroke="#000" stroke-width="0.45">300</text>
<text transform="translate(309.53,236.70) scale(0.8384,1)" font-size="22.30" fill="#000" font-weight="normal" stroke="#000" stroke-width="0.45">400</text>
<text transform="translate(309.14,212.30) scale(0.8489,1)" font-size="22.30" fill="#000" font-weight="normal" stroke="#000" stroke-width="0.45">500</text>
<text transform="translate(308.95,184.40) scale(0.8543,1)" font-size="22.30" fill="#000" font-weight="normal" stroke="#000" stroke-width="0.45">600</text>
<text transform="translate(308.95,157.50) scale(0.8543,1)" font-size="22.30" fill="#000" font-weight="normal" stroke="#000" stroke-width="0.45">700</text>
<text transform="translate(53.98,150.50) scale(1.0000,1)" font-size="22.30" fill="#000" font-weight="normal" stroke="#000" stroke-width="0.45">1</text>
<text transform="translate(35.10,250.30) scale(0.8934,1)" font-size="22.30" fill="#000" font-weight="normal" stroke="#000" stroke-width="0.45">0.5</text>
<text transform="translate(52.32,348.70) scale(0.9903,1)" font-size="22.30" fill="#000" font-weight="normal" stroke="#000" stroke-width="0.45">0</text>
<text transform="translate(68.10,369.40) scale(1.0090,1)" font-size="22.30" fill="#000" font-weight="normal" stroke="#000" stroke-width="0.45">0</text>
<text transform="translate(149.81,369.40) scale(0.8832,1)" font-size="22.30" fill="#000" font-weight="normal" stroke="#000" stroke-width="0.45">0.5</text>
<text transform="translate(248.73,369.40) scale(1.0000,1)" font-size="22.30" fill="#000" font-weight="normal" stroke="#000" stroke-width="0.45">1</text>
<text transform="translate(115.94,395.80) scale(1.0348,1)" font-size="23.30" fill="#000" font-weight="normal" stroke="#000" stroke-width="0.45">competition</text>
<text transform="translate(18.90,294.02) rotate(-90) scale(1.0056,1)" font-size="23.30" fill="#000" font-weight="normal" stroke="#000" stroke-width="0.45">mutualism</text>
<path d="M287.3 342.80h2.6M302.8 342.80h-2.6M287.3 315.20h2.6M302.8 315.20h-2.6M287.3 287.60h2.6M302.8 287.60h-2.6M287.3 260.00h2.6M302.8 260.00h-2.6M287.3 232.40h2.6M302.8 232.40h-2.6M287.3 204.80h2.6M302.8 204.80h-2.6M287.3 177.20h2.6M302.8 177.20h-2.6M287.3 149.60h2.6M302.8 149.60h-2.6" stroke="#000" stroke-width="1.1" fill="none"/>
<g shape-rendering="crispEdges"><rect x="478.80" y="144.20" width="9.65" height="10.42" fill="rgb(255, 0, 0)"/><rect x="487.95" y="144.20" width="9.65" height="10.42" fill="rgb(224, 0, 31)"/><rect x="497.11" y="144.20" width="9.65" height="10.42" fill="rgb(199, 0, 56)"/><rect x="506.26" y="144.20" width="9.65" height="10.42" fill="rgb(166, 0, 89)"/><rect x="515.42" y="144.20" width="9.65" height="10.42" fill="rgb(125, 0, 130)"/><rect x="524.58" y="144.20" width="9.65" height="10.42" fill="rgb(89, 0, 166)"/><rect x="533.73" y="144.20" width="9.65" height="10.42" fill="rgb(69, 0, 186)"/><rect x="542.88" y="144.20" width="9.65" height="10.42" fill="rgb(56, 0, 199)"/><rect x="552.04" y="144.20" width="9.65" height="10.42" fill="rgb(46, 0, 209)"/><rect x="561.19" y="144.20" width="9.65" height="10.42" fill="rgb(41, 0, 214)"/><rect x="570.35" y="144.20" width="9.65" height="10.42" fill="rgb(31, 0, 224)"/><rect x="579.50" y="144.20" width="9.65" height="10.42" fill="rgb(28, 0, 227)"/><rect x="588.66" y="144.20" width="9.65" height="10.42" fill="rgb(28, 0, 227)"/><rect x="597.81" y="144.20" width="9.65" height="10.42" fill="rgb(26, 0, 229)"/><rect x="606.97" y="144.20" width="9.65" height="10.42" fill="rgb(13, 0, 242)"/><rect x="616.12" y="144.20" width="9.65" height="10.42" fill="rgb(10, 0, 245)"/><rect x="625.28" y="144.20" width="9.65" height="10.42" fill="rgb(8, 0, 247)"/><rect x="634.43" y="144.20" width="9.65" height="10.42" fill="rgb(0, 0, 255)"/><rect x="643.59" y="144.20" width="9.65" height="10.42" fill="rgb(0, 0, 255)"/><rect x="652.75" y="144.20" width="9.15" height="10.42" fill="rgb(10, 0, 245)"/><rect x="478.80" y="154.11" width="9.65" height="10.42" fill="rgb(255, 0, 0)"/><rect x="487.95" y="154.11" width="9.65" height="10.42" fill="rgb(224, 0, 31)"/><rect x="497.11" y="154.11" width="9.65" height="10.42" fill="rgb(200, 0, 55)"/><rect x="506.26" y="154.11" width="9.65" height="10.42" fill="rgb(168, 0, 87)"/><rect x="515.42" y="154.11" width="9.65" height="10.42" fill="rgb(128, 0, 127)"/><rect x="524.58" y="154.11" width="9.65" height="10.42" fill="rgb(92, 0, 163)"/><rect x="533.73" y="154.11" width="9.65" height="10.42" fill="rgb(72, 0, 183)"/><rect x="542.88" y="154.11" width="9.65" height="10.42" fill="rgb(59, 0, 196)"/><rect x="552.04" y="154.11" width="9.65" height="10.42" fill="rgb(49, 0, 206)"/><rect x="561.19" y="154.11" width="9.65" height="10.42" fill="rgb(44, 0, 211)"/><rect x="570.35" y="154.11" width="9.65" height="10.42" fill="rgb(36, 0, 219)"/><rect x="579.50" y="154.11" width="9.65" height="10.42" fill="rgb(33, 0, 222)"/><rect x="588.66" y="154.11" width="9.65" height="10.42" fill="rgb(32, 0, 223)"/><rect x="597.81" y="154.11" width="9.65" height="10.42" fill="rgb(30, 0, 225)"/><rect x="606.97" y="154.11" width="9.65" height="10.42" fill="rgb(18, 0, 237)"/><rect x="616.12" y="154.11" width="9.65" height="10.42" fill="rgb(15, 0, 240)"/><rect x="625.28" y="154.11" width="9.65" height="10.42" fill="rgb(12, 0, 243)"/><rect x="634.43" y="154.11" width="9.65" height="10.42" fill="rgb(5, 0, 250)"/><rect x="643.59" y="154.11" width="9.65" height="10.42" fill="rgb(4, 0, 251)"/><rect x="652.75" y="154.11" width="9.15" height="10.42" fill="rgb(11, 0, 244)"/><rect x="478.80" y="164.03" width="9.65" height="10.42" fill="rgb(255, 0, 0)"/><rect x="487.95" y="164.03" width="9.65" height="10.42" fill="rgb(224, 0, 31)"/><rect x="497.11" y="164.03" width="9.65" height="10.42" fill="rgb(201, 0, 54)"/><rect x="506.26" y="164.03" width="9.65" height="10.42" fill="rgb(170, 0, 85)"/><rect x="515.42" y="164.03" width="9.65" height="10.42" fill="rgb(131, 0, 124)"/><rect x="524.58" y="164.03" width="9.65" height="10.42" fill="rgb(95, 0, 160)"/><rect x="533.73" y="164.03" width="9.65" height="10.42" fill="rgb(75, 0, 180)"/><rect x="542.88" y="164.03" width="9.65" height="10.42" fill="rgb(61, 0, 194)"/><rect x="552.04" y="164.03" width="9.65" height="10.42" fill="rgb(52, 0, 203)"/><rect x="561.19" y="164.03" width="9.65" height="10.42" fill="rgb(48, 0, 207)"/><rect x="570.35" y="164.03" width="9.65" height="10.42" fill="rgb(41, 0, 214)"/><rect x="579.50" y="164.03" width="9.65" height="10.42" fill="rgb(37, 0, 218)"/><rect x="588.66" y="164.03" width="9.65" height="10.42" fill="rgb(36, 0, 219)"/><rect x="597.81" y="164.03" width="9.65" height="10.42" fill="rgb(34, 0, 221)"/><rect x="606.97" y="164.03" width="9.65" height="10.42" fill="rgb(24, 0, 231)"/><rect x="616.12" y="164.03" width="9.65" height="10.42" fill="rgb(20, 0, 235)"/><rect x="625.28" y="164.03" width="9.65" height="10.42" fill="rgb(17, 0, 238)"/><rect x="634.43" y="164.03" width="9.65" height="10.42" fill="rgb(10, 0, 245)"/><rect x="643.59" y="164.03" width="9.65" height="10.42" fill="rgb(8, 0, 247)"/><rect x="652.75" y="164.03" width="9.15" height="10.42" fill="rgb(12, 0, 243)"/><rect x="478.80" y="173.94" width="9.65" height="10.42" fill="rgb(255, 0, 0)"/><rect x="487.95" y="173.94" width="9.65" height="10.42" fill="rgb(224, 0, 31)"/><rect x="497.11" y="173.94" width="9.65" height="10.42" fill="rgb(202, 0, 53)"/><rect x="506.26" y="173.94" width="9.65" height="10.42" fill="rgb(172, 0, 83)"/><rect x="515.42" y="173.94" width="9.65" height="10.42" fill="rgb(134, 0, 121)"/><rect x="524.58" y="173.94" width="9.65" height="10.42" fill="rgb(98, 0, 157)"/><rect x="533.73" y="173.94" width="9.65" height="10.42" fill="rgb(78, 0, 177)"/><rect x="542.88" y="173.94" width="9.65" height="10.42" fill="rgb(64, 0, 191)"/><rect x="552.04" y="173.94" width="9.65" height="10.42" fill="rgb(55, 0, 200)"/><rect x="561.19" y="173.94" width="9.65" height="10.42" fill="rgb(52, 0, 203)"/><rect x="570.35" y="173.94" width="9.65" height="10.42" fill="rgb(46, 0, 209)"/><rect x="579.50" y="173.94" width="9.65" height="10.42" fill="rgb(42, 0, 213)"/><rect x="588.66" y="173.94" width="9.65" height="10.42" fill="rgb(40, 0, 215)"/><rect x="597.81" y="173.94" width="9.65" height="10.42" fill="rgb(38, 0, 217)"/><rect x="606.97" y="173.94" width="9.65" height="10.42" fill="rgb(30, 0, 225)"/><rect x="616.12" y="173.94" width="9.65" height="10.42" fill="rgb(26, 0, 229)"/><rect x="625.28" y="173.94" width="9.65" height="10.42" fill="rgb(21, 0, 234)"/><rect x="634.43" y="173.94" width="9.65" height="10.42" fill="rgb(15, 0, 240)"/><rect x="643.59" y="173.94" width="9.65" height="10.42" fill="rgb(12, 0, 243)"/><rect x="652.75" y="173.94" width="9.15" height="10.42" fill="rgb(13, 0, 242)"/><rect x="478.80" y="183.86" width="9.65" height="10.42" fill="rgb(255, 0, 0)"/><rect x="487.95" y="183.86" width="9.65" height="10.42" fill="rgb(224, 0, 31)"/><rect x="497.11" y="183.86" width="9.65" height="10.42" fill="rgb(203, 0, 52)"/><rect x="506.26" y="183.86" width="9.65" height="10.42" fill="rgb(174, 0, 81)"/><rect x="515.42" y="183.86" width="9.65" height="10.42" fill="rgb(139, 0, 116)"/><rect x="524.58" y="183.86" width="9.65" height="10.42" fill="rgb(105, 0, 150)"/><rect x="533.73" y="183.86" width="9.65" height="10.42" fill="rgb(85, 0, 170)"/><rect x="542.88" y="183.86" width="9.65" height="10.42" fill="rgb(70, 0, 185)"/><rect x="552.04" y="183.86" width="9.65" height="10.42" fill="rgb(62, 0, 193)"/><rect x="561.19" y="183.86" width="9.65" height="10.42" fill="rgb(59, 0, 196)"/><rect x="570.35" y="183.86" width="9.65" height="10.42" fill="rgb(53, 0, 202)"/><rect x="579.50" y="183.86" width="9.65" height="10.42" fill="rgb(46, 0, 209)"/><rect x="588.66" y="183.86" width="9.65" height="10.42" fill="rgb(44, 0, 211)"/><rect x="597.81" y="183.86" width="9.65" height="10.42" fill="rgb(42, 0, 213)"/><rect x="606.97" y="183.86" width="9.65" height="10.42" fill="rgb(35, 0, 220)"/><rect x="616.12" y="183.86" width="9.65" height="10.42" fill="rgb(31, 0, 224)"/><rect x="625.28" y="183.86" width="9.65" height="10.42" fill="rgb(26, 0, 229)"/><rect x="634.43" y="183.86" width="9.65" height="10.42" fill="rgb(20, 0, 235)"/><rect x="643.59" y="183.86" width="9.65" height="10.42" fill="rgb(16, 0, 239)"/><rect x="652.75" y="183.86" width="9.15" height="10.42" fill="rgb(14, 0, 241)"/><rect x="478.80" y="193.77" width="9.65" height="10.42" fill="rgb(255, 0, 0)"/><rect x="487.95" y="193.77" width="9.65" height="10.42" fill="rgb(224, 0, 31)"/><rect x="497.11" y="193.77" width="9.65" height="10.42" fill="rgb(204, 0, 51)"/><rect x="506.26" y="193.77" width="9.65" height="10.42" fill="rgb(176, 0, 79)"/><rect x="515.42" y="193.77" width="9.65" height="10.42" fill="rgb(144, 0, 111)"/><rect x="524.58" y="193.77" width="9.65" height="10.42" fill="rgb(112, 0, 143)"/><rect x="533.73" y="193.77" width="9.65" height="10.42" fill="rgb(92, 0, 163)"/><rect x="542.88" y="193.77" width="9.65" height="10.42" fill="rgb(77, 0, 178)"/><rect x="552.04" y="193.77" width="9.65" height="10.42" fill="rgb(69, 0, 186)"/><rect x="561.19" y="193.77" width="9.65" height="10.42" fill="rgb(66, 0, 189)"/><rect x="570.35" y="193.77" width="9.65" height="10.42" fill="rgb(60, 0, 195)"/><rect x="579.50" y="193.77" width="9.65" height="10.42" fill="rgb(51, 0, 204)"/><rect x="588.66" y="193.77" width="9.65" height="10.42" fill="rgb(48, 0, 207)"/><rect x="597.81" y="193.77" width="9.65" height="10.42" fill="rgb(46, 0, 209)"/><rect x="606.97" y="193.77" width="9.65" height="10.42" fill="rgb(41, 0, 214)"/><rect x="616.12" y="193.77" width="9.65" height="10.42" fill="rgb(36, 0, 219)"/><rect x="625.28" y="193.77" width="9.65" height="10.42" fill="rgb(31, 0, 224)"/><rect x="634.43" y="193.77" width="9.65" height="10.42" fill="rgb(26, 0, 229)"/><rect x="643.59" y="193.77" width="9.65" height="10.42" fill="rgb(20, 0, 235)"/><rect x="652.75" y="193.77" width="9.15" height="10.42" fill="rgb(15, 0, 240)"/><rect x="478.80" y="203.69" width="9.65" height="10.42" fill="rgb(255, 0, 0)"/><rect x="487.95" y="203.69" width="9.65" height="10.42" fill="rgb(227, 0, 28)"/><rect x="497.11" y="203.69" width="9.65" height="10.42" fill="rgb(208, 0, 47)"/><rect x="506.26" y="203.69" width="9.65" height="10.42" fill="rgb(183, 0, 72)"/><rect x="515.42" y="203.69" width="9.65" height="10.42" fill="rgb(156, 0, 99)"/><rect x="524.58" y="203.69" width="9.65" height="10.42" fill="rgb(129, 0, 126)"/><rect x="533.73" y="203.69" width="9.65" height="10.42" fill="rgb(108, 0, 147)"/><rect x="542.88" y="203.69" width="9.65" height="10.42" fill="rgb(93, 0, 162)"/><rect x="552.04" y="203.69" width="9.65" height="10.42" fill="rgb(85, 0, 170)"/><rect x="561.19" y="203.69" width="9.65" height="10.42" fill="rgb(80, 0, 175)"/><rect x="570.35" y="203.69" width="9.65" height="10.42" fill="rgb(72, 0, 183)"/><rect x="579.50" y="203.69" width="9.65" height="10.42" fill="rgb(63, 0, 192)"/><rect x="588.66" y="203.69" width="9.65" height="10.42" fill="rgb(60, 0, 195)"/><rect x="597.81" y="203.69" width="9.65" height="10.42" fill="rgb(54, 0, 201)"/><rect x="606.97" y="203.69" width="9.65" height="10.42" fill="rgb(48, 0, 207)"/><rect x="616.12" y="203.69" width="9.65" height="10.42" fill="rgb(43, 0, 212)"/><rect x="625.28" y="203.69" width="9.65" height="10.42" fill="rgb(38, 0, 217)"/><rect x="634.43" y="203.69" width="9.65" height="10.42" fill="rgb(32, 0, 223)"/><rect x="643.59" y="203.69" width="9.65" height="10.42" fill="rgb(27, 0, 228)"/><rect x="652.75" y="203.69" width="9.15" height="10.42" fill="rgb(22, 0, 233)"/><rect x="478.80" y="213.60" width="9.65" height="10.42" fill="rgb(255, 0, 0)"/><rect x="487.95" y="213.60" width="9.65" height="10.42" fill="rgb(229, 0, 26)"/><rect x="497.11" y="213.60" width="9.65" height="10.42" fill="rgb(212, 0, 43)"/><rect x="506.26" y="213.60" width="9.65" height="10.42" fill="rgb(190, 0, 65)"/><rect x="515.42" y="213.60" width="9.65" height="10.42" fill="rgb(167, 0, 88)"/><rect x="524.58" y="213.60" width="9.65" height="10.42" fill="rgb(145, 0, 110)"/><rect x="533.73" y="213.60" width="9.65" height="10.42" fill="rgb(125, 0, 130)"/><rect x="542.88" y="213.60" width="9.65" height="10.42" fill="rgb(110, 0, 145)"/><rect x="552.04" y="213.60" width="9.65" height="10.42" fill="rgb(101, 0, 154)"/><rect x="561.19" y="213.60" width="9.65" height="10.42" fill="rgb(94, 0, 161)"/><rect x="570.35" y="213.60" width="9.65" height="10.42" fill="rgb(84, 0, 171)"/><rect x="579.50" y="213.60" width="9.65" height="10.42" fill="rgb(75, 0, 180)"/><rect x="588.66" y="213.60" width="9.65" height="10.42" fill="rgb(71, 0, 184)"/><rect x="597.81" y="213.60" width="9.65" height="10.42" fill="rgb(62, 0, 193)"/><rect x="606.97" y="213.60" width="9.65" height="10.42" fill="rgb(56, 0, 199)"/><rect x="616.12" y="213.60" width="9.65" height="10.42" fill="rgb(50, 0, 205)"/><rect x="625.28" y="213.60" width="9.65" height="10.42" fill="rgb(45, 0, 210)"/><rect x="634.43" y="213.60" width="9.65" height="10.42" fill="rgb(38, 0, 217)"/><rect x="643.59" y="213.60" width="9.65" height="10.42" fill="rgb(33, 0, 222)"/><rect x="652.75" y="213.60" width="9.15" height="10.42" fill="rgb(28, 0, 227)"/><rect x="478.80" y="223.52" width="9.65" height="10.42" fill="rgb(255, 0, 0)"/><rect x="487.95" y="223.52" width="9.65" height="10.42" fill="rgb(232, 0, 23)"/><rect x="497.11" y="223.52" width="9.65" height="10.42" fill="rgb(215, 0, 40)"/><rect x="506.26" y="223.52" width="9.65" height="10.42" fill="rgb(197, 0, 58)"/><rect x="515.42" y="223.52" width="9.65" height="10.42" fill="rgb(178, 0, 76)"/><rect x="524.58" y="223.52" width="9.65" height="10.42" fill="rgb(162, 0, 93)"/><rect x="533.73" y="223.52" width="9.65" height="10.42" fill="rgb(142, 0, 113)"/><rect x="542.88" y="223.52" width="9.65" height="10.42" fill="rgb(126, 0, 129)"/><rect x="552.04" y="223.52" width="9.65" height="10.42" fill="rgb(117, 0, 138)"/><rect x="561.19" y="223.52" width="9.65" height="10.42" fill="rgb(108, 0, 147)"/><rect x="570.35" y="223.52" width="9.65" height="10.42" fill="rgb(96, 0, 159)"/><rect x="579.50" y="223.52" width="9.65" height="10.42" fill="rgb(87, 0, 168)"/><rect x="588.66" y="223.52" width="9.65" height="10.42" fill="rgb(83, 0, 172)"/><rect x="597.81" y="223.52" width="9.65" height="10.42" fill="rgb(71, 0, 184)"/><rect x="606.97" y="223.52" width="9.65" height="10.42" fill="rgb(64, 0, 191)"/><rect x="616.12" y="223.52" width="9.65" height="10.42" fill="rgb(58, 0, 197)"/><rect x="625.28" y="223.52" width="9.65" height="10.42" fill="rgb(52, 0, 203)"/><rect x="634.43" y="223.52" width="9.65" height="10.42" fill="rgb(45, 0, 210)"/><rect x="643.59" y="223.52" width="9.65" height="10.42" fill="rgb(40, 0, 215)"/><rect x="652.75" y="223.52" width="9.15" height="10.42" fill="rgb(34, 0, 221)"/><rect x="478.80" y="233.44" width="9.65" height="10.42" fill="rgb(255, 0, 0)"/><rect x="487.95" y="233.44" width="9.65" height="10.42" fill="rgb(235, 0, 20)"/><rect x="497.11" y="233.44" width="9.65" height="10.42" fill="rgb(219, 0, 36)"/><rect x="506.26" y="233.44" width="9.65" height="10.42" fill="rgb(204, 0, 51)"/><rect x="515.42" y="233.44" width="9.65" height="10.42" fill="rgb(190, 0, 65)"/><rect x="524.58" y="233.44" width="9.65" height="10.42" fill="rgb(178, 0, 76)"/><rect x="533.73" y="233.44" width="9.65" height="10.42" fill="rgb(158, 0, 97)"/><rect x="542.88" y="233.44" width="9.65" height="10.42" fill="rgb(143, 0, 112)"/><rect x="552.04" y="233.44" width="9.65" height="10.42" fill="rgb(133, 0, 122)"/><rect x="561.19" y="233.44" width="9.65" height="10.42" fill="rgb(122, 0, 133)"/><rect x="570.35" y="233.44" width="9.65" height="10.42" fill="rgb(108, 0, 147)"/><rect x="579.50" y="233.44" width="9.65" height="10.42" fill="rgb(99, 0, 156)"/><rect x="588.66" y="233.44" width="9.65" height="10.42" fill="rgb(94, 0, 161)"/><rect x="597.81" y="233.44" width="9.65" height="10.42" fill="rgb(79, 0, 176)"/><rect x="606.97" y="233.44" width="9.65" height="10.42" fill="rgb(71, 0, 184)"/><rect x="616.12" y="233.44" width="9.65" height="10.42" fill="rgb(65, 0, 190)"/><rect x="625.28" y="233.44" width="9.65" height="10.42" fill="rgb(59, 0, 196)"/><rect x="634.43" y="233.44" width="9.65" height="10.42" fill="rgb(51, 0, 204)"/><rect x="643.59" y="233.44" width="9.65" height="10.42" fill="rgb(46, 0, 209)"/><rect x="652.75" y="233.44" width="9.15" height="10.42" fill="rgb(41, 0, 214)"/><rect x="478.80" y="243.35" width="9.65" height="10.42" fill="rgb(255, 0, 0)"/><rect x="487.95" y="243.35" width="9.65" height="10.42" fill="rgb(240, 0, 15)"/><rect x="497.11" y="243.35" width="9.65" height="10.42" fill="rgb(224, 0, 31)"/><rect x="506.26" y="243.35" width="9.65" height="10.42" fill="rgb(212, 0, 43)"/><rect x="515.42" y="243.35" width="9.65" height="10.42" fill="rgb(199, 0, 56)"/><rect x="524.58" y="243.35" width="9.65" height="10.42" fill="rgb(181, 0, 74)"/><rect x="533.73" y="243.35" width="9.65" height="10.42" fill="rgb(166, 0, 89)"/><rect x="542.88" y="243.35" width="9.65" height="10.42" fill="rgb(150, 0, 105)"/><rect x="552.04" y="243.35" width="9.65" height="10.42" fill="rgb(140, 0, 115)"/><rect x="561.19" y="243.35" width="9.65" height="10.42" fill="rgb(130, 0, 125)"/><rect x="570.35" y="243.35" width="9.65" height="10.42" fill="rgb(120, 0, 135)"/><rect x="579.50" y="243.35" width="9.65" height="10.42" fill="rgb(113, 0, 142)"/><rect x="588.66" y="243.35" width="9.65" height="10.42" fill="rgb(107, 0, 148)"/><rect x="597.81" y="243.35" width="9.65" height="10.42" fill="rgb(102, 0, 153)"/><rect x="606.97" y="243.35" width="9.65" height="10.42" fill="rgb(94, 0, 161)"/><rect x="616.12" y="243.35" width="9.65" height="10.42" fill="rgb(87, 0, 168)"/><rect x="625.28" y="243.35" width="9.65" height="10.42" fill="rgb(79, 0, 176)"/><rect x="634.43" y="243.35" width="9.65" height="10.42" fill="rgb(71, 0, 184)"/><rect x="643.59" y="243.35" width="9.65" height="10.42" fill="rgb(65, 0, 190)"/><rect x="652.75" y="243.35" width="9.15" height="10.42" fill="rgb(56, 0, 199)"/><rect x="478.80" y="253.26" width="9.65" height="10.42" fill="rgb(255, 0, 0)"/><rect x="487.95" y="253.26" width="9.65" height="10.42" fill="rgb(244, 0, 11)"/><rect x="497.11" y="253.26" width="9.65" height="10.42" fill="rgb(228, 0, 27)"/><rect x="506.26" y="253.26" width="9.65" height="10.42" fill="rgb(217, 0, 38)"/><rect x="515.42" y="253.26" width="9.65" height="10.42" fill="rgb(205, 0, 50)"/><rect x="524.58" y="253.26" width="9.65" height="10.42" fill="rgb(190, 0, 65)"/><rect x="533.73" y="253.26" width="9.65" height="10.42" fill="rgb(177, 0, 78)"/><rect x="542.88" y="253.26" width="9.65" height="10.42" fill="rgb(163, 0, 92)"/><rect x="552.04" y="253.26" width="9.65" height="10.42" fill="rgb(154, 0, 101)"/><rect x="561.19" y="253.26" width="9.65" height="10.42" fill="rgb(145, 0, 110)"/><rect x="570.35" y="253.26" width="9.65" height="10.42" fill="rgb(135, 0, 120)"/><rect x="579.50" y="253.26" width="9.65" height="10.42" fill="rgb(128, 0, 127)"/><rect x="588.66" y="253.26" width="9.65" height="10.42" fill="rgb(120, 0, 135)"/><rect x="597.81" y="253.26" width="9.65" height="10.42" fill="rgb(114, 0, 141)"/><rect x="606.97" y="253.26" width="9.65" height="10.42" fill="rgb(106, 0, 149)"/><rect x="616.12" y="253.26" width="9.65" height="10.42" fill="rgb(99, 0, 156)"/><rect x="625.28" y="253.26" width="9.65" height="10.42" fill="rgb(91, 0, 164)"/><rect x="634.43" y="253.26" width="9.65" height="10.42" fill="rgb(84, 0, 171)"/><rect x="643.59" y="253.26" width="9.65" height="10.42" fill="rgb(77, 0, 178)"/><rect x="652.75" y="253.26" width="9.15" height="10.42" fill="rgb(68, 0, 187)"/><rect x="478.80" y="263.18" width="9.65" height="10.42" fill="rgb(255, 0, 0)"/><rect x="487.95" y="263.18" width="9.65" height="10.42" fill="rgb(247, 0, 8)"/><rect x="497.11" y="263.18" width="9.65" height="10.42" fill="rgb(232, 0, 23)"/><rect x="506.26" y="263.18" width="9.65" height="10.42" fill="rgb(222, 0, 33)"/><rect x="515.42" y="263.18" width="9.65" height="10.42" fill="rgb(212, 0, 43)"/><rect x="524.58" y="263.18" width="9.65" height="10.42" fill="rgb(200, 0, 55)"/><rect x="533.73" y="263.18" width="9.65" height="10.42" fill="rgb(187, 0, 68)"/><rect x="542.88" y="263.18" width="9.65" height="10.42" fill="rgb(176, 0, 79)"/><rect x="552.04" y="263.18" width="9.65" height="10.42" fill="rgb(168, 0, 87)"/><rect x="561.19" y="263.18" width="9.65" height="10.42" fill="rgb(159, 0, 96)"/><rect x="570.35" y="263.18" width="9.65" height="10.42" fill="rgb(149, 0, 106)"/><rect x="579.50" y="263.18" width="9.65" height="10.42" fill="rgb(142, 0, 113)"/><rect x="588.66" y="263.18" width="9.65" height="10.42" fill="rgb(134, 0, 121)"/><rect x="597.81" y="263.18" width="9.65" height="10.42" fill="rgb(126, 0, 129)"/><rect x="606.97" y="263.18" width="9.65" height="10.42" fill="rgb(119, 0, 136)"/><rect x="616.12" y="263.18" width="9.65" height="10.42" fill="rgb(111, 0, 144)"/><rect x="625.28" y="263.18" width="9.65" height="10.42" fill="rgb(103, 0, 152)"/><rect x="634.43" y="263.18" width="9.65" height="10.42" fill="rgb(96, 0, 159)"/><rect x="643.59" y="263.18" width="9.65" height="10.42" fill="rgb(89, 0, 166)"/><rect x="652.75" y="263.18" width="9.15" height="10.42" fill="rgb(80, 0, 175)"/><rect x="478.80" y="273.10" width="9.65" height="10.42" fill="rgb(255, 0, 0)"/><rect x="487.95" y="273.10" width="9.65" height="10.42" fill="rgb(251, 0, 4)"/><rect x="497.11" y="273.10" width="9.65" height="10.42" fill="rgb(236, 0, 19)"/><rect x="506.26" y="273.10" width="9.65" height="10.42" fill="rgb(227, 0, 28)"/><rect x="515.42" y="273.10" width="9.65" height="10.42" fill="rgb(218, 0, 37)"/><rect x="524.58" y="273.10" width="9.65" height="10.42" fill="rgb(209, 0, 46)"/><rect x="533.73" y="273.10" width="9.65" height="10.42" fill="rgb(198, 0, 57)"/><rect x="542.88" y="273.10" width="9.65" height="10.42" fill="rgb(189, 0, 66)"/><rect x="552.04" y="273.10" width="9.65" height="10.42" fill="rgb(181, 0, 74)"/><rect x="561.19" y="273.10" width="9.65" height="10.42" fill="rgb(174, 0, 81)"/><rect x="570.35" y="273.10" width="9.65" height="10.42" fill="rgb(164, 0, 91)"/><rect x="579.50" y="273.10" width="9.65" height="10.42" fill="rgb(157, 0, 98)"/><rect x="588.66" y="273.10" width="9.65" height="10.42" fill="rgb(149, 0, 106)"/><rect x="597.81" y="273.10" width="9.65" height="10.42" fill="rgb(141, 0, 114)"/><rect x="606.97" y="273.10" width="9.65" height="10.42" fill="rgb(133, 0, 122)"/><rect x="616.12" y="273.10" width="9.65" height="10.42" fill="rgb(126, 0, 129)"/><rect x="625.28" y="273.10" width="9.65" height="10.42" fill="rgb(118, 0, 137)"/><rect x="634.43" y="273.10" width="9.65" height="10.42" fill="rgb(111, 0, 144)"/><rect x="643.59" y="273.10" width="9.65" height="10.42" fill="rgb(103, 0, 152)"/><rect x="652.75" y="273.10" width="9.15" height="10.42" fill="rgb(96, 0, 159)"/><rect x="478.80" y="283.01" width="9.65" height="10.42" fill="rgb(255, 0, 0)"/><rect x="487.95" y="283.01" width="9.65" height="10.42" fill="rgb(255, 0, 0)"/><rect x="497.11" y="283.01" width="9.65" height="10.42" fill="rgb(240, 0, 15)"/><rect x="506.26" y="283.01" width="9.65" height="10.42" fill="rgb(232, 0, 23)"/><rect x="515.42" y="283.01" width="9.65" height="10.42" fill="rgb(224, 0, 31)"/><rect x="524.58" y="283.01" width="9.65" height="10.42" fill="rgb(218, 0, 37)"/><rect x="533.73" y="283.01" width="9.65" height="10.42" fill="rgb(209, 0, 46)"/><rect x="542.88" y="283.01" width="9.65" height="10.42" fill="rgb(201, 0, 54)"/><rect x="552.04" y="283.01" width="9.65" height="10.42" fill="rgb(195, 0, 60)"/><rect x="561.19" y="283.01" width="9.65" height="10.42" fill="rgb(189, 0, 66)"/><rect x="570.35" y="283.01" width="9.65" height="10.42" fill="rgb(179, 0, 76)"/><rect x="579.50" y="283.01" width="9.65" height="10.42" fill="rgb(173, 0, 82)"/><rect x="588.66" y="283.01" width="9.65" height="10.42" fill="rgb(163, 0, 92)"/><rect x="597.81" y="283.01" width="9.65" height="10.42" fill="rgb(155, 0, 100)"/><rect x="606.97" y="283.01" width="9.65" height="10.42" fill="rgb(147, 0, 108)"/><rect x="616.12" y="283.01" width="9.65" height="10.42" fill="rgb(140, 0, 115)"/><rect x="625.28" y="283.01" width="9.65" height="10.42" fill="rgb(133, 0, 122)"/><rect x="634.43" y="283.01" width="9.65" height="10.42" fill="rgb(125, 0, 130)"/><rect x="643.59" y="283.01" width="9.65" height="10.42" fill="rgb(118, 0, 137)"/><rect x="652.75" y="283.01" width="9.15" height="10.42" fill="rgb(111, 0, 144)"/><rect x="478.80" y="292.93" width="9.65" height="10.42" fill="rgb(255, 0, 0)"/><rect x="487.95" y="292.93" width="9.65" height="10.42" fill="rgb(255, 0, 0)"/><rect x="497.11" y="292.93" width="9.65" height="10.42" fill="rgb(242, 0, 13)"/><rect x="506.26" y="292.93" width="9.65" height="10.42" fill="rgb(235, 0, 20)"/><rect x="515.42" y="292.93" width="9.65" height="10.42" fill="rgb(229, 0, 26)"/><rect x="524.58" y="292.93" width="9.65" height="10.42" fill="rgb(224, 0, 31)"/><rect x="533.73" y="292.93" width="9.65" height="10.42" fill="rgb(218, 0, 37)"/><rect x="542.88" y="292.93" width="9.65" height="10.42" fill="rgb(212, 0, 43)"/><rect x="552.04" y="292.93" width="9.65" height="10.42" fill="rgb(205, 0, 50)"/><rect x="561.19" y="292.93" width="9.65" height="10.42" fill="rgb(200, 0, 55)"/><rect x="570.35" y="292.93" width="9.65" height="10.42" fill="rgb(193, 0, 62)"/><rect x="579.50" y="292.93" width="9.65" height="10.42" fill="rgb(186, 0, 69)"/><rect x="588.66" y="292.93" width="9.65" height="10.42" fill="rgb(180, 0, 75)"/><rect x="597.81" y="292.93" width="9.65" height="10.42" fill="rgb(171, 0, 84)"/><rect x="606.97" y="292.93" width="9.65" height="10.42" fill="rgb(164, 0, 91)"/><rect x="616.12" y="292.93" width="9.65" height="10.42" fill="rgb(157, 0, 98)"/><rect x="625.28" y="292.93" width="9.65" height="10.42" fill="rgb(150, 0, 105)"/><rect x="634.43" y="292.93" width="9.65" height="10.42" fill="rgb(140, 0, 115)"/><rect x="643.59" y="292.93" width="9.65" height="10.42" fill="rgb(133, 0, 122)"/><rect x="652.75" y="292.93" width="9.15" height="10.42" fill="rgb(123, 0, 132)"/><rect x="478.80" y="302.84" width="9.65" height="10.42" fill="rgb(255, 0, 0)"/><rect x="487.95" y="302.84" width="9.65" height="10.42" fill="rgb(255, 0, 0)"/><rect x="497.11" y="302.84" width="9.65" height="10.42" fill="rgb(245, 0, 10)"/><rect x="506.26" y="302.84" width="9.65" height="10.42" fill="rgb(238, 0, 17)"/><rect x="515.42" y="302.84" width="9.65" height="10.42" fill="rgb(233, 0, 22)"/><rect x="524.58" y="302.84" width="9.65" height="10.42" fill="rgb(228, 0, 27)"/><rect x="533.73" y="302.84" width="9.65" height="10.42" fill="rgb(222, 0, 33)"/><rect x="542.88" y="302.84" width="9.65" height="10.42" fill="rgb(216, 0, 39)"/><rect x="552.04" y="302.84" width="9.65" height="10.42" fill="rgb(210, 0, 45)"/><rect x="561.19" y="302.84" width="9.65" height="10.42" fill="rgb(206, 0, 49)"/><rect x="570.35" y="302.84" width="9.65" height="10.42" fill="rgb(199, 0, 56)"/><rect x="579.50" y="302.84" width="9.65" height="10.42" fill="rgb(192, 0, 63)"/><rect x="588.66" y="302.84" width="9.65" height="10.42" fill="rgb(187, 0, 68)"/><rect x="597.81" y="302.84" width="9.65" height="10.42" fill="rgb(179, 0, 76)"/><rect x="606.97" y="302.84" width="9.65" height="10.42" fill="rgb(172, 0, 83)"/><rect x="616.12" y="302.84" width="9.65" height="10.42" fill="rgb(165, 0, 90)"/><rect x="625.28" y="302.84" width="9.65" height="10.42" fill="rgb(158, 0, 97)"/><rect x="634.43" y="302.84" width="9.65" height="10.42" fill="rgb(149, 0, 106)"/><rect x="643.59" y="302.84" width="9.65" height="10.42" fill="rgb(142, 0, 113)"/><rect x="652.75" y="302.84" width="9.15" height="10.42" fill="rgb(133, 0, 122)"/><rect x="478.80" y="312.75" width="9.65" height="10.42" fill="rgb(255, 0, 0)"/><rect x="487.95" y="312.75" width="9.65" height="10.42" fill="rgb(255, 0, 0)"/><rect x="497.11" y="312.75" width="9.65" height="10.42" fill="rgb(249, 0, 6)"/><rect x="506.26" y="312.75" width="9.65" height="10.42" fill="rgb(241, 0, 14)"/><rect x="515.42" y="312.75" width="9.65" height="10.42" fill="rgb(236, 0, 19)"/><rect x="524.58" y="312.75" width="9.65" height="10.42" fill="rgb(231, 0, 24)"/><rect x="533.73" y="312.75" width="9.65" height="10.42" fill="rgb(226, 0, 29)"/><rect x="542.88" y="312.75" width="9.65" height="10.42" fill="rgb(221, 0, 34)"/><rect x="552.04" y="312.75" width="9.65" height="10.42" fill="rgb(215, 0, 40)"/><rect x="561.19" y="312.75" width="9.65" height="10.42" fill="rgb(211, 0, 44)"/><rect x="570.35" y="312.75" width="9.65" height="10.42" fill="rgb(205, 0, 50)"/><rect x="579.50" y="312.75" width="9.65" height="10.42" fill="rgb(199, 0, 56)"/><rect x="588.66" y="312.75" width="9.65" height="10.42" fill="rgb(194, 0, 61)"/><rect x="597.81" y="312.75" width="9.65" height="10.42" fill="rgb(187, 0, 68)"/><rect x="606.97" y="312.75" width="9.65" height="10.42" fill="rgb(180, 0, 75)"/><rect x="616.12" y="312.75" width="9.65" height="10.42" fill="rgb(174, 0, 81)"/><rect x="625.28" y="312.75" width="9.65" height="10.42" fill="rgb(167, 0, 88)"/><rect x="634.43" y="312.75" width="9.65" height="10.42" fill="rgb(159, 0, 96)"/><rect x="643.59" y="312.75" width="9.65" height="10.42" fill="rgb(151, 0, 104)"/><rect x="652.75" y="312.75" width="9.15" height="10.42" fill="rgb(142, 0, 113)"/><rect x="478.80" y="322.67" width="9.65" height="10.42" fill="rgb(255, 0, 0)"/><rect x="487.95" y="322.67" width="9.65" height="10.42" fill="rgb(255, 0, 0)"/><rect x="497.11" y="322.67" width="9.65" height="10.42" fill="rgb(252, 0, 3)"/><rect x="506.26" y="322.67" width="9.65" height="10.42" fill="rgb(244, 0, 11)"/><rect x="515.42" y="322.67" width="9.65" height="10.42" fill="rgb(239, 0, 16)"/><rect x="524.58" y="322.67" width="9.65" height="10.42" fill="rgb(234, 0, 21)"/><rect x="533.73" y="322.67" width="9.65" height="10.42" fill="rgb(229, 0, 26)"/><rect x="542.88" y="322.67" width="9.65" height="10.42" fill="rgb(225, 0, 30)"/><rect x="552.04" y="322.67" width="9.65" height="10.42" fill="rgb(221, 0, 34)"/><rect x="561.19" y="322.67" width="9.65" height="10.42" fill="rgb(216, 0, 39)"/><rect x="570.35" y="322.67" width="9.65" height="10.42" fill="rgb(210, 0, 45)"/><rect x="579.50" y="322.67" width="9.65" height="10.42" fill="rgb(205, 0, 50)"/><rect x="588.66" y="322.67" width="9.65" height="10.42" fill="rgb(201, 0, 54)"/><rect x="597.81" y="322.67" width="9.65" height="10.42" fill="rgb(194, 0, 61)"/><rect x="606.97" y="322.67" width="9.65" height="10.42" fill="rgb(188, 0, 67)"/><rect x="616.12" y="322.67" width="9.65" height="10.42" fill="rgb(182, 0, 73)"/><rect x="625.28" y="322.67" width="9.65" height="10.42" fill="rgb(176, 0, 79)"/><rect x="634.43" y="322.67" width="9.65" height="10.42" fill="rgb(168, 0, 87)"/><rect x="643.59" y="322.67" width="9.65" height="10.42" fill="rgb(161, 0, 94)"/><rect x="652.75" y="322.67" width="9.15" height="10.42" fill="rgb(152, 0, 103)"/><rect x="478.80" y="332.59" width="9.65" height="9.92" fill="rgb(255, 0, 0)"/><rect x="487.95" y="332.59" width="9.65" height="9.92" fill="rgb(255, 0, 0)"/><rect x="497.11" y="332.59" width="9.65" height="9.92" fill="rgb(255, 0, 0)"/><rect x="506.26" y="332.59" width="9.65" height="9.92" fill="rgb(247, 0, 8)"/><rect x="515.42" y="332.59" width="9.65" height="9.92" fill="rgb(242, 0, 13)"/><rect x="524.58" y="332.59" width="9.65" height="9.92" fill="rgb(237, 0, 18)"/><rect x="533.73" y="332.59" width="9.65" height="9.92" fill="rgb(233, 0, 22)"/><rect x="542.88" y="332.59" width="9.65" height="9.92" fill="rgb(229, 0, 26)"/><rect x="552.04" y="332.59" width="9.65" height="9.92" fill="rgb(226, 0, 29)"/><rect x="561.19" y="332.59" width="9.65" height="9.92" fill="rgb(222, 0, 33)"/><rect x="570.35" y="332.59" width="9.65" height="9.92" fill="rgb(216, 0, 39)"/><rect x="579.50" y="332.59" width="9.65" height="9.92" fill="rgb(212, 0, 43)"/><rect x="588.66" y="332.59" width="9.65" height="9.92" fill="rgb(208, 0, 47)"/><rect x="597.81" y="332.59" width="9.65" height="9.92" fill="rgb(202, 0, 53)"/><rect x="606.97" y="332.59" width="9.65" height="9.92" fill="rgb(196, 0, 59)"/><rect x="616.12" y="332.59" width="9.65" height="9.92" fill="rgb(190, 0, 65)"/><rect x="625.28" y="332.59" width="9.65" height="9.92" fill="rgb(184, 0, 71)"/><rect x="634.43" y="332.59" width="9.65" height="9.92" fill="rgb(177, 0, 78)"/><rect x="643.59" y="332.59" width="9.65" height="9.92" fill="rgb(170, 0, 85)"/><rect x="652.75" y="332.59" width="9.15" height="9.92" fill="rgb(162, 0, 93)"/></g>
<path d="M479.3 144.2V342.5" stroke="#1a1a1a" stroke-width="1.2" fill="none"/><path d="M478.8 144.6H661.9" stroke="#222" stroke-width="0.9" fill="none"/><path d="M661.3 144.2V342.5" stroke="#222" stroke-width="1.0" fill="none"/><path d="M478.8 342.3H661.9" stroke="#222" stroke-width="0.6" fill="none"/>
<path d="M570.35 144.2v16.3M570.35 342.5v-16.3M479.40000000000003 243.35h15.700000000000001M661.3 243.35h-15.700000000000001" stroke="#1a0a1a" stroke-width="0.75" fill="none"/>
<rect x="694.4" y="144.2" width="15.399999999999977" height="198.3" fill="url(#cb)"/>
<rect x="694.4" y="144.20" width="15.399999999999977" height="9.92" fill="url(#band)"/><rect x="694.4" y="154.11" width="15.399999999999977" height="9.92" fill="url(#band)"/><rect x="694.4" y="164.03" width="15.399999999999977" height="9.92" fill="url(#band)"/><rect x="694.4" y="173.94" width="15.399999999999977" height="9.92" fill="url(#band)"/><rect x="694.4" y="183.86" width="15.399999999999977" height="9.92" fill="url(#band)"/><rect x="694.4" y="193.77" width="15.399999999999977" height="9.92" fill="url(#band)"/><rect x="694.4" y="203.69" width="15.399999999999977" height="9.92" fill="url(#band)"/><rect x="694.4" y="213.60" width="15.399999999999977" height="9.92" fill="url(#band)"/><rect x="694.4" y="223.52" width="15.399999999999977" height="9.92" fill="url(#band)"/><rect x="694.4" y="233.44" width="15.399999999999977" height="9.92" fill="url(#band)"/><rect x="694.4" y="243.35" width="15.399999999999977" height="9.92" fill="url(#band)"/><rect x="694.4" y="253.26" width="15.399999999999977" height="9.92" fill="url(#band)"/><rect x="694.4" y="263.18" width="15.399999999999977" height="9.92" fill="url(#band)"/><rect x="694.4" y="273.10" width="15.399999999999977" height="9.92" fill="url(#band)"/><rect x="694.4" y="283.01" width="15.399999999999977" height="9.92" fill="url(#band)"/><rect x="694.4" y="292.93" width="15.399999999999977" height="9.92" fill="url(#band)"/><rect x="694.4" y="302.84" width="15.399999999999977" height="9.92" fill="url(#band)"/><rect x="694.4" y="312.75" width="15.399999999999977" height="9.92" fill="url(#band)"/><rect x="694.4" y="322.67" width="15.399999999999977" height="9.92" fill="url(#band)"/><rect x="694.4" y="332.59" width="15.399999999999977" height="9.92" fill="url(#band)"/><rect x="694.9" y="144.7" width="14.399999999999977" height="197.3" fill="none" stroke="#181818" stroke-width="1.0"/>
<text transform="translate(716.76,347.70) scale(0.9436,1)" font-size="22.30" fill="#000" font-weight="normal" stroke="#000" stroke-width="0.45">0</text>
<text transform="translate(714.71,320.90) scale(0.8305,1)" font-size="22.30" fill="#000" font-weight="normal" stroke="#000" stroke-width="0.45">100</text>
<text transform="translate(716.14,292.80) scale(0.8628,1)" font-size="22.30" fill="#000" font-weight="normal" stroke="#000" stroke-width="0.45">200</text>
<text transform="translate(716.34,266.20) scale(0.8574,1)" font-size="22.30" fill="#000" font-weight="normal" stroke="#000" stroke-width="0.45">300</text>
<text transform="translate(717.23,234.80) scale(0.8384,1)" font-size="22.30" fill="#000" font-weight="normal" stroke="#000" stroke-width="0.45">400</text>
<text transform="translate(716.84,210.40) scale(0.8489,1)" font-size="22.30" fill="#000" font-weight="normal" stroke="#000" stroke-width="0.45">500</text>
<text transform="translate(716.65,182.50) scale(0.8543,1)" font-size="22.30" fill="#000" font-weight="normal" stroke="#000" stroke-width="0.45">600</text>
<text transform="translate(716.65,155.60) scale(0.8543,1)" font-size="22.30" fill="#000" font-weight="normal" stroke="#000" stroke-width="0.45">700</text>
<text transform="translate(461.98,150.50) scale(1.0000,1)" font-size="22.30" fill="#000" font-weight="normal" stroke="#000" stroke-width="0.45">1</text>
<text transform="translate(443.10,250.30) scale(0.8934,1)" font-size="22.30" fill="#000" font-weight="normal" stroke="#000" stroke-width="0.45">0.5</text>
<text transform="translate(460.32,348.70) scale(0.9903,1)" font-size="22.30" fill="#000" font-weight="normal" stroke="#000" stroke-width="0.45">0</text>
<text transform="translate(475.10,369.40) scale(1.0090,1)" font-size="22.30" fill="#000" font-weight="normal" stroke="#000" stroke-width="0.45">0</text>
<text transform="translate(556.81,369.40) scale(0.8832,1)" font-size="22.30" fill="#000" font-weight="normal" stroke="#000" stroke-width="0.45">0.5</text>
<text transform="translate(655.73,369.40) scale(1.0000,1)" font-size="22.30" fill="#000" font-weight="normal" stroke="#000" stroke-width="0.45">1</text>
<text transform="translate(522.34,395.80) scale(1.0348,1)" font-size="23.30" fill="#000" font-weight="normal" stroke="#000" stroke-width="0.45">competition</text>
<text transform="translate(427.20,294.02) rotate(-90) scale(1.0056,1)" font-size="23.30" fill="#000" font-weight="normal" stroke="#000" stroke-width="0.45">mutualism</text>
<path d="M694.4 342.80h2.6M709.8 342.80h-2.6M694.4 315.20h2.6M709.8 315.20h-2.6M694.4 287.60h2.6M709.8 287.60h-2.6M694.4 260.00h2.6M709.8 260.00h-2.6M694.4 232.40h2.6M709.8 232.40h-2.6M694.4 204.80h2.6M709.8 204.80h-2.6M694.4 177.20h2.6M709.8 177.20h-2.6M694.4 149.60h2.6M709.8 149.60h-2.6" stroke="#000" stroke-width="1.1" fill="none"/>
<g shape-rendering="crispEdges"><rect x="70.80" y="503.50" width="9.66" height="10.41" fill="rgb(255, 0, 0)"/><rect x="79.95" y="503.50" width="9.66" height="10.41" fill="rgb(255, 0, 0)"/><rect x="89.11" y="503.50" width="9.66" height="10.41" fill="rgb(250, 0, 5)"/><rect x="98.27" y="503.50" width="9.66" height="10.41" fill="rgb(214, 0, 41)"/><rect x="107.42" y="503.50" width="9.66" height="10.41" fill="rgb(178, 0, 76)"/><rect x="116.58" y="503.50" width="9.66" height="10.41" fill="rgb(156, 0, 99)"/><rect x="125.73" y="503.50" width="9.66" height="10.41" fill="rgb(133, 0, 122)"/><rect x="134.88" y="503.50" width="9.66" height="10.41" fill="rgb(113, 0, 142)"/><rect x="144.04" y="503.50" width="9.66" height="10.41" fill="rgb(98, 0, 157)"/><rect x="153.19" y="503.50" width="9.66" height="10.41" fill="rgb(87, 0, 168)"/><rect x="162.35" y="503.50" width="9.66" height="10.41" fill="rgb(77, 0, 178)"/><rect x="171.50" y="503.50" width="9.66" height="10.41" fill="rgb(69, 0, 186)"/><rect x="180.66" y="503.50" width="9.66" height="10.41" fill="rgb(65, 0, 190)"/><rect x="189.81" y="503.50" width="9.66" height="10.41" fill="rgb(61, 0, 194)"/><rect x="198.97" y="503.50" width="9.66" height="10.41" fill="rgb(55, 0, 200)"/><rect x="208.12" y="503.50" width="9.66" height="10.41" fill="rgb(55, 0, 200)"/><rect x="217.28" y="503.50" width="9.66" height="10.41" fill="rgb(46, 0, 209)"/><rect x="226.44" y="503.50" width="9.66" height="10.41" fill="rgb(45, 0, 210)"/><rect x="235.59" y="503.50" width="9.66" height="10.41" fill="rgb(36, 0, 219)"/><rect x="244.75" y="503.50" width="9.16" height="10.41" fill="rgb(31, 0, 224)"/><rect x="70.80" y="513.40" width="9.66" height="10.41" fill="rgb(255, 0, 0)"/><rect x="79.95" y="513.40" width="9.66" height="10.41" fill="rgb(255, 0, 0)"/><rect x="89.11" y="513.40" width="9.66" height="10.41" fill="rgb(251, 0, 4)"/><rect x="98.27" y="513.40" width="9.66" height="10.41" fill="rgb(212, 0, 43)"/><rect x="107.42" y="513.40" width="9.66" height="10.41" fill="rgb(176, 0, 79)"/><rect x="116.58" y="513.40" width="9.66" height="10.41" fill="rgb(151, 0, 104)"/><rect x="125.73" y="513.40" width="9.66" height="10.41" fill="rgb(129, 0, 126)"/><rect x="134.88" y="513.40" width="9.66" height="10.41" fill="rgb(110, 0, 145)"/><rect x="144.04" y="513.40" width="9.66" height="10.41" fill="rgb(96, 0, 159)"/><rect x="153.19" y="513.40" width="9.66" height="10.41" fill="rgb(85, 0, 170)"/><rect x="162.35" y="513.40" width="9.66" height="10.41" fill="rgb(75, 0, 180)"/><rect x="171.50" y="513.40" width="9.66" height="10.41" fill="rgb(68, 0, 187)"/><rect x="180.66" y="513.40" width="9.66" height="10.41" fill="rgb(64, 0, 191)"/><rect x="189.81" y="513.40" width="9.66" height="10.41" fill="rgb(60, 0, 195)"/><rect x="198.97" y="513.40" width="9.66" height="10.41" fill="rgb(54, 0, 201)"/><rect x="208.12" y="513.40" width="9.66" height="10.41" fill="rgb(53, 0, 202)"/><rect x="217.28" y="513.40" width="9.66" height="10.41" fill="rgb(45, 0, 210)"/><rect x="226.44" y="513.40" width="9.66" height="10.41" fill="rgb(43, 0, 212)"/><rect x="235.59" y="513.40" width="9.66" height="10.41" fill="rgb(35, 0, 220)"/><rect x="244.75" y="513.40" width="9.16" height="10.41" fill="rgb(30, 0, 225)"/><rect x="70.80" y="523.31" width="9.66" height="10.41" fill="rgb(255, 0, 0)"/><rect x="79.95" y="523.31" width="9.66" height="10.41" fill="rgb(255, 0, 0)"/><rect x="89.11" y="523.31" width="9.66" height="10.41" fill="rgb(252, 0, 3)"/><rect x="98.27" y="523.31" width="9.66" height="10.41" fill="rgb(209, 0, 46)"/><rect x="107.42" y="523.31" width="9.66" height="10.41" fill="rgb(173, 0, 82)"/><rect x="116.58" y="523.31" width="9.66" height="10.41" fill="rgb(147, 0, 108)"/><rect x="125.73" y="523.31" width="9.66" height="10.41" fill="rgb(125, 0, 130)"/><rect x="134.88" y="523.31" width="9.66" height="10.41" fill="rgb(107, 0, 148)"/><rect x="144.04" y="523.31" width="9.66" height="10.41" fill="rgb(94, 0, 161)"/><rect x="153.19" y="523.31" width="9.66" height="10.41" fill="rgb(83, 0, 172)"/><rect x="162.35" y="523.31" width="9.66" height="10.41" fill="rgb(74, 0, 181)"/><rect x="171.50" y="523.31" width="9.66" height="10.41" fill="rgb(67, 0, 188)"/><rect x="180.66" y="523.31" width="9.66" height="10.41" fill="rgb(62, 0, 193)"/><rect x="189.81" y="523.31" width="9.66" height="10.41" fill="rgb(58, 0, 197)"/><rect x="198.97" y="523.31" width="9.66" height="10.41" fill="rgb(53, 0, 202)"/><rect x="208.12" y="523.31" width="9.66" height="10.41" fill="rgb(51, 0, 204)"/><rect x="217.28" y="523.31" width="9.66" height="10.41" fill="rgb(44, 0, 211)"/><rect x="226.44" y="523.31" width="9.66" height="10.41" fill="rgb(42, 0, 213)"/><rect x="235.59" y="523.31" width="9.66" height="10.41" fill="rgb(34, 0, 221)"/><rect x="244.75" y="523.31" width="9.16" height="10.41" fill="rgb(30, 0, 225)"/><rect x="70.80" y="533.22" width="9.66" height="10.41" fill="rgb(255, 0, 0)"/><rect x="79.95" y="533.22" width="9.66" height="10.41" fill="rgb(255, 0, 0)"/><rect x="89.11" y="533.22" width="9.66" height="10.41" fill="rgb(253, 0, 2)"/><rect x="98.27" y="533.22" width="9.66" height="10.41" fill="rgb(207, 0, 48)"/><rect x="107.42" y="533.22" width="9.66" height="10.41" fill="rgb(171, 0, 84)"/><rect x="116.58" y="533.22" width="9.66" height="10.41" fill="rgb(143, 0, 112)"/><rect x="125.73" y="533.22" width="9.66" height="10.41" fill="rgb(121, 0, 134)"/><rect x="134.88" y="533.22" width="9.66" height="10.41" fill="rgb(104, 0, 151)"/><rect x="144.04" y="533.22" width="9.66" height="10.41" fill="rgb(91, 0, 164)"/><rect x="153.19" y="533.22" width="9.66" height="10.41" fill="rgb(81, 0, 174)"/><rect x="162.35" y="533.22" width="9.66" height="10.41" fill="rgb(73, 0, 182)"/><rect x="171.50" y="533.22" width="9.66" height="10.41" fill="rgb(66, 0, 189)"/><rect x="180.66" y="533.22" width="9.66" height="10.41" fill="rgb(61, 0, 194)"/><rect x="189.81" y="533.22" width="9.66" height="10.41" fill="rgb(57, 0, 198)"/><rect x="198.97" y="533.22" width="9.66" height="10.41" fill="rgb(52, 0, 203)"/><rect x="208.12" y="533.22" width="9.66" height="10.41" fill="rgb(49, 0, 206)"/><rect x="217.28" y="533.22" width="9.66" height="10.41" fill="rgb(44, 0, 211)"/><rect x="226.44" y="533.22" width="9.66" height="10.41" fill="rgb(40, 0, 215)"/><rect x="235.59" y="533.22" width="9.66" height="10.41" fill="rgb(33, 0, 222)"/><rect x="244.75" y="533.22" width="9.16" height="10.41" fill="rgb(29, 0, 226)"/><rect x="70.80" y="543.12" width="9.66" height="10.41" fill="rgb(255, 0, 0)"/><rect x="79.95" y="543.12" width="9.66" height="10.41" fill="rgb(255, 0, 0)"/><rect x="89.11" y="543.12" width="9.66" height="10.41" fill="rgb(254, 0, 1)"/><rect x="98.27" y="543.12" width="9.66" height="10.41" fill="rgb(204, 0, 51)"/><rect x="107.42" y="543.12" width="9.66" height="10.41" fill="rgb(168, 0, 87)"/><rect x="116.58" y="543.12" width="9.66" height="10.41" fill="rgb(139, 0, 116)"/><rect x="125.73" y="543.12" width="9.66" height="10.41" fill="rgb(117, 0, 138)"/><rect x="134.88" y="543.12" width="9.66" height="10.41" fill="rgb(101, 0, 154)"/><rect x="144.04" y="543.12" width="9.66" height="10.41" fill="rgb(89, 0, 166)"/><rect x="153.19" y="543.12" width="9.66" height="10.41" fill="rgb(80, 0, 175)"/><rect x="162.35" y="543.12" width="9.66" height="10.41" fill="rgb(71, 0, 184)"/><rect x="171.50" y="543.12" width="9.66" height="10.41" fill="rgb(65, 0, 190)"/><rect x="180.66" y="543.12" width="9.66" height="10.41" fill="rgb(60, 0, 195)"/><rect x="189.81" y="543.12" width="9.66" height="10.41" fill="rgb(55, 0, 200)"/><rect x="198.97" y="543.12" width="9.66" height="10.41" fill="rgb(51, 0, 204)"/><rect x="208.12" y="543.12" width="9.66" height="10.41" fill="rgb(48, 0, 207)"/><rect x="217.28" y="543.12" width="9.66" height="10.41" fill="rgb(43, 0, 212)"/><rect x="226.44" y="543.12" width="9.66" height="10.41" fill="rgb(39, 0, 216)"/><rect x="235.59" y="543.12" width="9.66" height="10.41" fill="rgb(33, 0, 222)"/><rect x="244.75" y="543.12" width="9.16" height="10.41" fill="rgb(29, 0, 226)"/><rect x="70.80" y="553.02" width="9.66" height="10.41" fill="rgb(255, 0, 0)"/><rect x="79.95" y="553.02" width="9.66" height="10.41" fill="rgb(255, 0, 0)"/><rect x="89.11" y="553.02" width="9.66" height="10.41" fill="rgb(255, 0, 0)"/><rect x="98.27" y="553.02" width="9.66" height="10.41" fill="rgb(201, 0, 54)"/><rect x="107.42" y="553.02" width="9.66" height="10.41" fill="rgb(166, 0, 89)"/><rect x="116.58" y="553.02" width="9.66" height="10.41" fill="rgb(135, 0, 120)"/><rect x="125.73" y="553.02" width="9.66" height="10.41" fill="rgb(113, 0, 142)"/><rect x="134.88" y="553.02" width="9.66" height="10.41" fill="rgb(98, 0, 157)"/><rect x="144.04" y="553.02" width="9.66" height="10.41" fill="rgb(87, 0, 168)"/><rect x="153.19" y="553.02" width="9.66" height="10.41" fill="rgb(78, 0, 177)"/><rect x="162.35" y="553.02" width="9.66" height="10.41" fill="rgb(70, 0, 185)"/><rect x="171.50" y="553.02" width="9.66" height="10.41" fill="rgb(64, 0, 191)"/><rect x="180.66" y="553.02" width="9.66" height="10.41" fill="rgb(59, 0, 196)"/><rect x="189.81" y="553.02" width="9.66" height="10.41" fill="rgb(54, 0, 201)"/><rect x="198.97" y="553.02" width="9.66" height="10.41" fill="rgb(50, 0, 205)"/><rect x="208.12" y="553.02" width="9.66" height="10.41" fill="rgb(46, 0, 209)"/><rect x="217.28" y="553.02" width="9.66" height="10.41" fill="rgb(42, 0, 213)"/><rect x="226.44" y="553.02" width="9.66" height="10.41" fill="rgb(37, 0, 218)"/><rect x="235.59" y="553.02" width="9.66" height="10.41" fill="rgb(32, 0, 223)"/><rect x="244.75" y="553.02" width="9.16" height="10.41" fill="rgb(28, 0, 227)"/><rect x="70.80" y="562.93" width="9.66" height="10.41" fill="rgb(255, 0, 0)"/><rect x="79.95" y="562.93" width="9.66" height="10.41" fill="rgb(255, 0, 0)"/><rect x="89.11" y="562.93" width="9.66" height="10.41" fill="rgb(250, 0, 5)"/><rect x="98.27" y="562.93" width="9.66" height="10.41" fill="rgb(198, 0, 57)"/><rect x="107.42" y="562.93" width="9.66" height="10.41" fill="rgb(162, 0, 93)"/><rect x="116.58" y="562.93" width="9.66" height="10.41" fill="rgb(132, 0, 123)"/><rect x="125.73" y="562.93" width="9.66" height="10.41" fill="rgb(111, 0, 144)"/><rect x="134.88" y="562.93" width="9.66" height="10.41" fill="rgb(96, 0, 159)"/><rect x="144.04" y="562.93" width="9.66" height="10.41" fill="rgb(85, 0, 170)"/><rect x="153.19" y="562.93" width="9.66" height="10.41" fill="rgb(76, 0, 179)"/><rect x="162.35" y="562.93" width="9.66" height="10.41" fill="rgb(69, 0, 186)"/><rect x="171.50" y="562.93" width="9.66" height="10.41" fill="rgb(62, 0, 193)"/><rect x="180.66" y="562.93" width="9.66" height="10.41" fill="rgb(57, 0, 198)"/><rect x="189.81" y="562.93" width="9.66" height="10.41" fill="rgb(52, 0, 203)"/><rect x="198.97" y="562.93" width="9.66" height="10.41" fill="rgb(49, 0, 206)"/><rect x="208.12" y="562.93" width="9.66" height="10.41" fill="rgb(45, 0, 210)"/><rect x="217.28" y="562.93" width="9.66" height="10.41" fill="rgb(41, 0, 214)"/><rect x="226.44" y="562.93" width="9.66" height="10.41" fill="rgb(36, 0, 219)"/><rect x="235.59" y="562.93" width="9.66" height="10.41" fill="rgb(31, 0, 224)"/><rect x="244.75" y="562.93" width="9.16" height="10.41" fill="rgb(27, 0, 228)"/><rect x="70.80" y="572.84" width="9.66" height="10.41" fill="rgb(255, 0, 0)"/><rect x="79.95" y="572.84" width="9.66" height="10.41" fill="rgb(255, 0, 0)"/><rect x="89.11" y="572.84" width="9.66" height="10.41" fill="rgb(245, 0, 10)"/><rect x="98.27" y="572.84" width="9.66" height="10.41" fill="rgb(195, 0, 60)"/><rect x="107.42" y="572.84" width="9.66" height="10.41" fill="rgb(158, 0, 97)"/><rect x="116.58" y="572.84" width="9.66" height="10.41" fill="rgb(129, 0, 126)"/><rect x="125.73" y="572.84" width="9.66" height="10.41" fill="rgb(109, 0, 146)"/><rect x="134.88" y="572.84" width="9.66" height="10.41" fill="rgb(94, 0, 161)"/><rect x="144.04" y="572.84" width="9.66" height="10.41" fill="rgb(83, 0, 172)"/><rect x="153.19" y="572.84" width="9.66" height="10.41" fill="rgb(74, 0, 181)"/><rect x="162.35" y="572.84" width="9.66" height="10.41" fill="rgb(67, 0, 188)"/><rect x="171.50" y="572.84" width="9.66" height="10.41" fill="rgb(60, 0, 195)"/><rect x="180.66" y="572.84" width="9.66" height="10.41" fill="rgb(55, 0, 200)"/><rect x="189.81" y="572.84" width="9.66" height="10.41" fill="rgb(51, 0, 204)"/><rect x="198.97" y="572.84" width="9.66" height="10.41" fill="rgb(47, 0, 208)"/><rect x="208.12" y="572.84" width="9.66" height="10.41" fill="rgb(44, 0, 211)"/><rect x="217.28" y="572.84" width="9.66" height="10.41" fill="rgb(40, 0, 215)"/><rect x="226.44" y="572.84" width="9.66" height="10.41" fill="rgb(35, 0, 220)"/><rect x="235.59" y="572.84" width="9.66" height="10.41" fill="rgb(30, 0, 225)"/><rect x="244.75" y="572.84" width="9.16" height="10.41" fill="rgb(27, 0, 228)"/><rect x="70.80" y="582.74" width="9.66" height="10.41" fill="rgb(255, 0, 0)"/><rect x="79.95" y="582.74" width="9.66" height="10.41" fill="rgb(255, 0, 0)"/><rect x="89.11" y="582.74" width="9.66" height="10.41" fill="rgb(240, 0, 15)"/><rect x="98.27" y="582.74" width="9.66" height="10.41" fill="rgb(192, 0, 63)"/><rect x="107.42" y="582.74" width="9.66" height="10.41" fill="rgb(154, 0, 101)"/><rect x="116.58" y="582.74" width="9.66" height="10.41" fill="rgb(126, 0, 129)"/><rect x="125.73" y="582.74" width="9.66" height="10.41" fill="rgb(108, 0, 147)"/><rect x="134.88" y="582.74" width="9.66" height="10.41" fill="rgb(94, 0, 161)"/><rect x="144.04" y="582.74" width="9.66" height="10.41" fill="rgb(83, 0, 172)"/><rect x="153.19" y="582.74" width="9.66" height="10.41" fill="rgb(76, 0, 179)"/><rect x="162.35" y="582.74" width="9.66" height="10.41" fill="rgb(68, 0, 187)"/><rect x="171.50" y="582.74" width="9.66" height="10.41" fill="rgb(61, 0, 194)"/><rect x="180.66" y="582.74" width="9.66" height="10.41" fill="rgb(56, 0, 199)"/><rect x="189.81" y="582.74" width="9.66" height="10.41" fill="rgb(52, 0, 203)"/><rect x="198.97" y="582.74" width="9.66" height="10.41" fill="rgb(48, 0, 207)"/><rect x="208.12" y="582.74" width="9.66" height="10.41" fill="rgb(44, 0, 211)"/><rect x="217.28" y="582.74" width="9.66" height="10.41" fill="rgb(41, 0, 214)"/><rect x="226.44" y="582.74" width="9.66" height="10.41" fill="rgb(35, 0, 220)"/><rect x="235.59" y="582.74" width="9.66" height="10.41" fill="rgb(30, 0, 225)"/><rect x="244.75" y="582.74" width="9.16" height="10.41" fill="rgb(27, 0, 228)"/><rect x="70.80" y="592.64" width="9.66" height="10.41" fill="rgb(255, 0, 0)"/><rect x="79.95" y="592.64" width="9.66" height="10.41" fill="rgb(255, 0, 0)"/><rect x="89.11" y="592.64" width="9.66" height="10.41" fill="rgb(235, 0, 20)"/><rect x="98.27" y="592.64" width="9.66" height="10.41" fill="rgb(189, 0, 66)"/><rect x="107.42" y="592.64" width="9.66" height="10.41" fill="rgb(150, 0, 105)"/><rect x="116.58" y="592.64" width="9.66" height="10.41" fill="rgb(122, 0, 133)"/><rect x="125.73" y="592.64" width="9.66" height="10.41" fill="rgb(106, 0, 149)"/><rect x="134.88" y="592.64" width="9.66" height="10.41" fill="rgb(94, 0, 162)"/><rect x="144.04" y="592.64" width="9.66" height="10.41" fill="rgb(84, 0, 171)"/><rect x="153.19" y="592.64" width="9.66" height="10.41" fill="rgb(77, 0, 178)"/><rect x="162.35" y="592.64" width="9.66" height="10.41" fill="rgb(69, 0, 186)"/><rect x="171.50" y="592.64" width="9.66" height="10.41" fill="rgb(62, 0, 193)"/><rect x="180.66" y="592.64" width="9.66" height="10.41" fill="rgb(57, 0, 198)"/><rect x="189.81" y="592.64" width="9.66" height="10.41" fill="rgb(53, 0, 202)"/><rect x="198.97" y="592.64" width="9.66" height="10.41" fill="rgb(49, 0, 206)"/><rect x="208.12" y="592.64" width="9.66" height="10.41" fill="rgb(45, 0, 210)"/><rect x="217.28" y="592.64" width="9.66" height="10.41" fill="rgb(41, 0, 214)"/><rect x="226.44" y="592.64" width="9.66" height="10.41" fill="rgb(35, 0, 220)"/><rect x="235.59" y="592.64" width="9.66" height="10.41" fill="rgb(30, 0, 225)"/><rect x="244.75" y="592.64" width="9.16" height="10.41" fill="rgb(27, 0, 228)"/><rect x="70.80" y="602.55" width="9.66" height="10.41" fill="rgb(255, 0, 0)"/><rect x="79.95" y="602.55" width="9.66" height="10.41" fill="rgb(255, 0, 0)"/><rect x="89.11" y="602.55" width="9.66" height="10.41" fill="rgb(209, 0, 46)"/><rect x="98.27" y="602.55" width="9.66" height="10.41" fill="rgb(171, 0, 84)"/><rect x="107.42" y="602.55" width="9.66" height="10.41" fill="rgb(140, 0, 115)"/><rect x="116.58" y="602.55" width="9.66" height="10.41" fill="rgb(115, 0, 140)"/><rect x="125.73" y="602.55" width="9.66" height="10.41" fill="rgb(100, 0, 155)"/><rect x="134.88" y="602.55" width="9.66" height="10.41" fill="rgb(90, 0, 165)"/><rect x="144.04" y="602.55" width="9.66" height="10.41" fill="rgb(82, 0, 173)"/><rect x="153.19" y="602.55" width="9.66" height="10.41" fill="rgb(75, 0, 180)"/><rect x="162.35" y="602.55" width="9.66" height="10.41" fill="rgb(68, 0, 187)"/><rect x="171.50" y="602.55" width="9.66" height="10.41" fill="rgb(62, 0, 193)"/><rect x="180.66" y="602.55" width="9.66" height="10.41" fill="rgb(57, 0, 198)"/><rect x="189.81" y="602.55" width="9.66" height="10.41" fill="rgb(52, 0, 203)"/><rect x="198.97" y="602.55" width="9.66" height="10.41" fill="rgb(48, 0, 207)"/><rect x="208.12" y="602.55" width="9.66" height="10.41" fill="rgb(43, 0, 212)"/><rect x="217.28" y="602.55" width="9.66" height="10.41" fill="rgb(39, 0, 216)"/><rect x="226.44" y="602.55" width="9.66" height="10.41" fill="rgb(34, 0, 221)"/><rect x="235.59" y="602.55" width="9.66" height="10.41" fill="rgb(28, 0, 227)"/><rect x="244.75" y="602.55" width="9.16" height="10.41" fill="rgb(24, 0, 231)"/><rect x="70.80" y="612.46" width="9.66" height="10.41" fill="rgb(255, 0, 0)"/><rect x="79.95" y="612.46" width="9.66" height="10.41" fill="rgb(250, 0, 5)"/><rect x="89.11" y="612.46" width="9.66" height="10.41" fill="rgb(204, 0, 51)"/><rect x="98.27" y="612.46" width="9.66" height="10.41" fill="rgb(166, 0, 89)"/><rect x="107.42" y="612.46" width="9.66" height="10.41" fill="rgb(136, 0, 119)"/><rect x="116.58" y="612.46" width="9.66" height="10.41" fill="rgb(112, 0, 143)"/><rect x="125.73" y="612.46" width="9.66" height="10.41" fill="rgb(98, 0, 157)"/><rect x="134.88" y="612.46" width="9.66" height="10.41" fill="rgb(88, 0, 167)"/><rect x="144.04" y="612.46" width="9.66" height="10.41" fill="rgb(80, 0, 175)"/><rect x="153.19" y="612.46" width="9.66" height="10.41" fill="rgb(74, 0, 181)"/><rect x="162.35" y="612.46" width="9.66" height="10.41" fill="rgb(67, 0, 188)"/><rect x="171.50" y="612.46" width="9.66" height="10.41" fill="rgb(61, 0, 194)"/><rect x="180.66" y="612.46" width="9.66" height="10.41" fill="rgb(55, 0, 200)"/><rect x="189.81" y="612.46" width="9.66" height="10.41" fill="rgb(51, 0, 204)"/><rect x="198.97" y="612.46" width="9.66" height="10.41" fill="rgb(47, 0, 208)"/><rect x="208.12" y="612.46" width="9.66" height="10.41" fill="rgb(42, 0, 213)"/><rect x="217.28" y="612.46" width="9.66" height="10.41" fill="rgb(38, 0, 217)"/><rect x="226.44" y="612.46" width="9.66" height="10.41" fill="rgb(33, 0, 222)"/><rect x="235.59" y="612.46" width="9.66" height="10.41" fill="rgb(27, 0, 228)"/><rect x="244.75" y="612.46" width="9.16" height="10.41" fill="rgb(23, 0, 232)"/><rect x="70.80" y="622.36" width="9.66" height="10.41" fill="rgb(255, 0, 0)"/><rect x="79.95" y="622.36" width="9.66" height="10.41" fill="rgb(245, 0, 10)"/><rect x="89.11" y="622.36" width="9.66" height="10.41" fill="rgb(200, 0, 55)"/><rect x="98.27" y="622.36" width="9.66" height="10.41" fill="rgb(161, 0, 94)"/><rect x="107.42" y="622.36" width="9.66" height="10.41" fill="rgb(133, 0, 122)"/><rect x="116.58" y="622.36" width="9.66" height="10.41" fill="rgb(110, 0, 145)"/><rect x="125.73" y="622.36" width="9.66" height="10.41" fill="rgb(96, 0, 159)"/><rect x="134.88" y="622.36" width="9.66" height="10.41" fill="rgb(86, 0, 169)"/><rect x="144.04" y="622.36" width="9.66" height="10.41" fill="rgb(78, 0, 177)"/><rect x="153.19" y="622.36" width="9.66" height="10.41" fill="rgb(73, 0, 182)"/><rect x="162.35" y="622.36" width="9.66" height="10.41" fill="rgb(66, 0, 189)"/><rect x="171.50" y="622.36" width="9.66" height="10.41" fill="rgb(60, 0, 195)"/><rect x="180.66" y="622.36" width="9.66" height="10.41" fill="rgb(54, 0, 201)"/><rect x="189.81" y="622.36" width="9.66" height="10.41" fill="rgb(50, 0, 205)"/><rect x="198.97" y="622.36" width="9.66" height="10.41" fill="rgb(46, 0, 209)"/><rect x="208.12" y="622.36" width="9.66" height="10.41" fill="rgb(41, 0, 214)"/><rect x="217.28" y="622.36" width="9.66" height="10.41" fill="rgb(37, 0, 218)"/><rect x="226.44" y="622.36" width="9.66" height="10.41" fill="rgb(32, 0, 223)"/><rect x="235.59" y="622.36" width="9.66" height="10.41" fill="rgb(26, 0, 229)"/><rect x="244.75" y="622.36" width="9.16" height="10.41" fill="rgb(22, 0, 233)"/><rect x="70.80" y="632.26" width="9.66" height="10.41" fill="rgb(255, 0, 0)"/><rect x="79.95" y="632.26" width="9.66" height="10.41" fill="rgb(240, 0, 15)"/><rect x="89.11" y="632.26" width="9.66" height="10.41" fill="rgb(195, 0, 60)"/><rect x="98.27" y="632.26" width="9.66" height="10.41" fill="rgb(156, 0, 99)"/><rect x="107.42" y="632.26" width="9.66" height="10.41" fill="rgb(129, 0, 126)"/><rect x="116.58" y="632.26" width="9.66" height="10.41" fill="rgb(107, 0, 148)"/><rect x="125.73" y="632.26" width="9.66" height="10.41" fill="rgb(94, 0, 161)"/><rect x="134.88" y="632.26" width="9.66" height="10.41" fill="rgb(84, 0, 171)"/><rect x="144.04" y="632.26" width="9.66" height="10.41" fill="rgb(77, 0, 178)"/><rect x="153.19" y="632.26" width="9.66" height="10.41" fill="rgb(71, 0, 184)"/><rect x="162.35" y="632.26" width="9.66" height="10.41" fill="rgb(64, 0, 191)"/><rect x="171.50" y="632.26" width="9.66" height="10.41" fill="rgb(59, 0, 196)"/><rect x="180.66" y="632.26" width="9.66" height="10.41" fill="rgb(53, 0, 202)"/><rect x="189.81" y="632.26" width="9.66" height="10.41" fill="rgb(49, 0, 206)"/><rect x="198.97" y="632.26" width="9.66" height="10.41" fill="rgb(45, 0, 210)"/><rect x="208.12" y="632.26" width="9.66" height="10.41" fill="rgb(40, 0, 215)"/><rect x="217.28" y="632.26" width="9.66" height="10.41" fill="rgb(35, 0, 220)"/><rect x="226.44" y="632.26" width="9.66" height="10.41" fill="rgb(31, 0, 224)"/><rect x="235.59" y="632.26" width="9.66" height="10.41" fill="rgb(26, 0, 229)"/><rect x="244.75" y="632.26" width="9.16" height="10.41" fill="rgb(21, 0, 234)"/><rect x="70.80" y="642.17" width="9.66" height="10.41" fill="rgb(255, 0, 0)"/><rect x="79.95" y="642.17" width="9.66" height="10.41" fill="rgb(235, 0, 20)"/><rect x="89.11" y="642.17" width="9.66" height="10.41" fill="rgb(190, 0, 65)"/><rect x="98.27" y="642.17" width="9.66" height="10.41" fill="rgb(150, 0, 105)"/><rect x="107.42" y="642.17" width="9.66" height="10.41" fill="rgb(125, 0, 130)"/><rect x="116.58" y="642.17" width="9.66" height="10.41" fill="rgb(105, 0, 150)"/><rect x="125.73" y="642.17" width="9.66" height="10.41" fill="rgb(92, 0, 163)"/><rect x="134.88" y="642.17" width="9.66" height="10.41" fill="rgb(82, 0, 173)"/><rect x="144.04" y="642.17" width="9.66" height="10.41" fill="rgb(75, 0, 180)"/><rect x="153.19" y="642.17" width="9.66" height="10.41" fill="rgb(70, 0, 185)"/><rect x="162.35" y="642.17" width="9.66" height="10.41" fill="rgb(63, 0, 192)"/><rect x="171.50" y="642.17" width="9.66" height="10.41" fill="rgb(57, 0, 198)"/><rect x="180.66" y="642.17" width="9.66" height="10.41" fill="rgb(52, 0, 203)"/><rect x="189.81" y="642.17" width="9.66" height="10.41" fill="rgb(47, 0, 208)"/><rect x="198.97" y="642.17" width="9.66" height="10.41" fill="rgb(44, 0, 211)"/><rect x="208.12" y="642.17" width="9.66" height="10.41" fill="rgb(39, 0, 216)"/><rect x="217.28" y="642.17" width="9.66" height="10.41" fill="rgb(34, 0, 221)"/><rect x="226.44" y="642.17" width="9.66" height="10.41" fill="rgb(29, 0, 226)"/><rect x="235.59" y="642.17" width="9.66" height="10.41" fill="rgb(25, 0, 230)"/><rect x="244.75" y="642.17" width="9.16" height="10.41" fill="rgb(20, 0, 235)"/><rect x="70.80" y="652.08" width="9.66" height="10.41" fill="rgb(255, 0, 0)"/><rect x="79.95" y="652.08" width="9.66" height="10.41" fill="rgb(214, 0, 41)"/><rect x="89.11" y="652.08" width="9.66" height="10.41" fill="rgb(176, 0, 79)"/><rect x="98.27" y="652.08" width="9.66" height="10.41" fill="rgb(140, 0, 115)"/><rect x="107.42" y="652.08" width="9.66" height="10.41" fill="rgb(118, 0, 137)"/><rect x="116.58" y="652.08" width="9.66" height="10.41" fill="rgb(100, 0, 155)"/><rect x="125.73" y="652.08" width="9.66" height="10.41" fill="rgb(90, 0, 165)"/><rect x="134.88" y="652.08" width="9.66" height="10.41" fill="rgb(82, 0, 173)"/><rect x="144.04" y="652.08" width="9.66" height="10.41" fill="rgb(77, 0, 178)"/><rect x="153.19" y="652.08" width="9.66" height="10.41" fill="rgb(73, 0, 182)"/><rect x="162.35" y="652.08" width="9.66" height="10.41" fill="rgb(66, 0, 189)"/><rect x="171.50" y="652.08" width="9.66" height="10.41" fill="rgb(60, 0, 195)"/><rect x="180.66" y="652.08" width="9.66" height="10.41" fill="rgb(55, 0, 200)"/><rect x="189.81" y="652.08" width="9.66" height="10.41" fill="rgb(50, 0, 205)"/><rect x="198.97" y="652.08" width="9.66" height="10.41" fill="rgb(46, 0, 209)"/><rect x="208.12" y="652.08" width="9.66" height="10.41" fill="rgb(41, 0, 214)"/><rect x="217.28" y="652.08" width="9.66" height="10.41" fill="rgb(36, 0, 219)"/><rect x="226.44" y="652.08" width="9.66" height="10.41" fill="rgb(30, 0, 225)"/><rect x="235.59" y="652.08" width="9.66" height="10.41" fill="rgb(25, 0, 230)"/><rect x="244.75" y="652.08" width="9.16" height="10.41" fill="rgb(20, 0, 235)"/><rect x="70.80" y="661.98" width="9.66" height="10.41" fill="rgb(251, 0, 4)"/><rect x="79.95" y="661.98" width="9.66" height="10.41" fill="rgb(209, 0, 46)"/><rect x="89.11" y="661.98" width="9.66" height="10.41" fill="rgb(170, 0, 85)"/><rect x="98.27" y="661.98" width="9.66" height="10.41" fill="rgb(135, 0, 120)"/><rect x="107.42" y="661.98" width="9.66" height="10.41" fill="rgb(114, 0, 141)"/><rect x="116.58" y="661.98" width="9.66" height="10.41" fill="rgb(97, 0, 158)"/><rect x="125.73" y="661.98" width="9.66" height="10.41" fill="rgb(88, 0, 167)"/><rect x="134.88" y="661.98" width="9.66" height="10.41" fill="rgb(80, 0, 175)"/><rect x="144.04" y="661.98" width="9.66" height="10.41" fill="rgb(75, 0, 180)"/><rect x="153.19" y="661.98" width="9.66" height="10.41" fill="rgb(71, 0, 184)"/><rect x="162.35" y="661.98" width="9.66" height="10.41" fill="rgb(65, 0, 190)"/><rect x="171.50" y="661.98" width="9.66" height="10.41" fill="rgb(59, 0, 196)"/><rect x="180.66" y="661.98" width="9.66" height="10.41" fill="rgb(53, 0, 202)"/><rect x="189.81" y="661.98" width="9.66" height="10.41" fill="rgb(49, 0, 206)"/><rect x="198.97" y="661.98" width="9.66" height="10.41" fill="rgb(44, 0, 211)"/><rect x="208.12" y="661.98" width="9.66" height="10.41" fill="rgb(39, 0, 216)"/><rect x="217.28" y="661.98" width="9.66" height="10.41" fill="rgb(35, 0, 220)"/><rect x="226.44" y="661.98" width="9.66" height="10.41" fill="rgb(30, 0, 225)"/><rect x="235.59" y="661.98" width="9.66" height="10.41" fill="rgb(24, 0, 231)"/><rect x="244.75" y="661.98" width="9.16" height="10.41" fill="rgb(19, 0, 236)"/><rect x="70.80" y="671.88" width="9.66" height="10.41" fill="rgb(247, 0, 8)"/><rect x="79.95" y="671.88" width="9.66" height="10.41" fill="rgb(205, 0, 50)"/><rect x="89.11" y="671.88" width="9.66" height="10.41" fill="rgb(163, 0, 92)"/><rect x="98.27" y="671.88" width="9.66" height="10.41" fill="rgb(130, 0, 125)"/><rect x="107.42" y="671.88" width="9.66" height="10.41" fill="rgb(109, 0, 146)"/><rect x="116.58" y="671.88" width="9.66" height="10.41" fill="rgb(94, 0, 161)"/><rect x="125.73" y="671.88" width="9.66" height="10.41" fill="rgb(85, 0, 170)"/><rect x="134.88" y="671.88" width="9.66" height="10.41" fill="rgb(78, 0, 177)"/><rect x="144.04" y="671.88" width="9.66" height="10.41" fill="rgb(73, 0, 182)"/><rect x="153.19" y="671.88" width="9.66" height="10.41" fill="rgb(69, 0, 186)"/><rect x="162.35" y="671.88" width="9.66" height="10.41" fill="rgb(63, 0, 192)"/><rect x="171.50" y="671.88" width="9.66" height="10.41" fill="rgb(58, 0, 197)"/><rect x="180.66" y="671.88" width="9.66" height="10.41" fill="rgb(52, 0, 203)"/><rect x="189.81" y="671.88" width="9.66" height="10.41" fill="rgb(47, 0, 208)"/><rect x="198.97" y="671.88" width="9.66" height="10.41" fill="rgb(43, 0, 212)"/><rect x="208.12" y="671.88" width="9.66" height="10.41" fill="rgb(38, 0, 217)"/><rect x="217.28" y="671.88" width="9.66" height="10.41" fill="rgb(34, 0, 221)"/><rect x="226.44" y="671.88" width="9.66" height="10.41" fill="rgb(29, 0, 226)"/><rect x="235.59" y="671.88" width="9.66" height="10.41" fill="rgb(24, 0, 231)"/><rect x="244.75" y="671.88" width="9.16" height="10.41" fill="rgb(19, 0, 236)"/><rect x="70.80" y="681.79" width="9.66" height="10.41" fill="rgb(244, 0, 11)"/><rect x="79.95" y="681.79" width="9.66" height="10.41" fill="rgb(200, 0, 55)"/><rect x="89.11" y="681.79" width="9.66" height="10.41" fill="rgb(157, 0, 98)"/><rect x="98.27" y="681.79" width="9.66" height="10.41" fill="rgb(125, 0, 130)"/><rect x="107.42" y="681.79" width="9.66" height="10.41" fill="rgb(104, 0, 151)"/><rect x="116.58" y="681.79" width="9.66" height="10.41" fill="rgb(91, 0, 164)"/><rect x="125.73" y="681.79" width="9.66" height="10.41" fill="rgb(83, 0, 172)"/><rect x="134.88" y="681.79" width="9.66" height="10.41" fill="rgb(77, 0, 178)"/><rect x="144.04" y="681.79" width="9.66" height="10.41" fill="rgb(71, 0, 184)"/><rect x="153.19" y="681.79" width="9.66" height="10.41" fill="rgb(67, 0, 188)"/><rect x="162.35" y="681.79" width="9.66" height="10.41" fill="rgb(62, 0, 193)"/><rect x="171.50" y="681.79" width="9.66" height="10.41" fill="rgb(56, 0, 199)"/><rect x="180.66" y="681.79" width="9.66" height="10.41" fill="rgb(50, 0, 205)"/><rect x="189.81" y="681.79" width="9.66" height="10.41" fill="rgb(46, 0, 209)"/><rect x="198.97" y="681.79" width="9.66" height="10.41" fill="rgb(42, 0, 213)"/><rect x="208.12" y="681.79" width="9.66" height="10.41" fill="rgb(37, 0, 218)"/><rect x="217.28" y="681.79" width="9.66" height="10.41" fill="rgb(33, 0, 222)"/><rect x="226.44" y="681.79" width="9.66" height="10.41" fill="rgb(28, 0, 227)"/><rect x="235.59" y="681.79" width="9.66" height="10.41" fill="rgb(23, 0, 232)"/><rect x="244.75" y="681.79" width="9.16" height="10.41" fill="rgb(18, 0, 237)"/><rect x="70.80" y="691.70" width="9.66" height="9.91" fill="rgb(240, 0, 15)"/><rect x="79.95" y="691.70" width="9.66" height="9.91" fill="rgb(195, 0, 60)"/><rect x="89.11" y="691.70" width="9.66" height="9.91" fill="rgb(150, 0, 105)"/><rect x="98.27" y="691.70" width="9.66" height="9.91" fill="rgb(120, 0, 135)"/><rect x="107.42" y="691.70" width="9.66" height="9.91" fill="rgb(100, 0, 155)"/><rect x="116.58" y="691.70" width="9.66" height="9.91" fill="rgb(88, 0, 167)"/><rect x="125.73" y="691.70" width="9.66" height="9.91" fill="rgb(80, 0, 175)"/><rect x="134.88" y="691.70" width="9.66" height="9.91" fill="rgb(75, 0, 180)"/><rect x="144.04" y="691.70" width="9.66" height="9.91" fill="rgb(69, 0, 186)"/><rect x="153.19" y="691.70" width="9.66" height="9.91" fill="rgb(65, 0, 190)"/><rect x="162.35" y="691.70" width="9.66" height="9.91" fill="rgb(60, 0, 195)"/><rect x="171.50" y="691.70" width="9.66" height="9.91" fill="rgb(55, 0, 200)"/><rect x="180.66" y="691.70" width="9.66" height="9.91" fill="rgb(49, 0, 206)"/><rect x="189.81" y="691.70" width="9.66" height="9.91" fill="rgb(44, 0, 211)"/><rect x="198.97" y="691.70" width="9.66" height="9.91" fill="rgb(40, 0, 215)"/><rect x="208.12" y="691.70" width="9.66" height="9.91" fill="rgb(36, 0, 219)"/><rect x="217.28" y="691.70" width="9.66" height="9.91" fill="rgb(32, 0, 223)"/><rect x="226.44" y="691.70" width="9.66" height="9.91" fill="rgb(27, 0, 228)"/><rect x="235.59" y="691.70" width="9.66" height="9.91" fill="rgb(23, 0, 232)"/><rect x="244.75" y="691.70" width="9.16" height="9.91" fill="rgb(18, 0, 237)"/></g>
<path d="M71.3 503.5V701.6" stroke="#1a1a1a" stroke-width="1.2" fill="none"/><path d="M70.8 503.9H253.9" stroke="#222" stroke-width="0.9" fill="none"/><path d="M253.3 503.5V701.6" stroke="#222" stroke-width="1.0" fill="none"/><path d="M70.8 701.4H253.9" stroke="#222" stroke-width="0.6" fill="none"/>
<path d="M162.35 503.5v16.3M162.35 701.6v-16.3M71.39999999999999 602.55h15.700000000000001M253.3 602.55h-15.700000000000001" stroke="#1a0a1a" stroke-width="0.75" fill="none"/>
<rect x="287.3" y="503.5" width="15.399999999999977" height="198.10000000000002" fill="url(#cb)"/>
<rect x="287.3" y="503.50" width="15.399999999999977" height="9.91" fill="url(#band)"/><rect x="287.3" y="513.40" width="15.399999999999977" height="9.91" fill="url(#band)"/><rect x="287.3" y="523.31" width="15.399999999999977" height="9.91" fill="url(#band)"/><rect x="287.3" y="533.22" width="15.399999999999977" height="9.91" fill="url(#band)"/><rect x="287.3" y="543.12" width="15.399999999999977" height="9.91" fill="url(#band)"/><rect x="287.3" y="553.02" width="15.399999999999977" height="9.91" fill="url(#band)"/><rect x="287.3" y="562.93" width="15.399999999999977" height="9.91" fill="url(#band)"/><rect x="287.3" y="572.84" width="15.399999999999977" height="9.91" fill="url(#band)"/><rect x="287.3" y="582.74" width="15.399999999999977" height="9.91" fill="url(#band)"/><rect x="287.3" y="592.64" width="15.399999999999977" height="9.91" fill="url(#band)"/><rect x="287.3" y="602.55" width="15.399999999999977" height="9.91" fill="url(#band)"/><rect x="287.3" y="612.46" width="15.399999999999977" height="9.91" fill="url(#band)"/><rect x="287.3" y="622.36" width="15.399999999999977" height="9.91" fill="url(#band)"/><rect x="287.3" y="632.26" width="15.399999999999977" height="9.91" fill="url(#band)"/><rect x="287.3" y="642.17" width="15.399999999999977" height="9.91" fill="url(#band)"/><rect x="287.3" y="652.08" width="15.399999999999977" height="9.91" fill="url(#band)"/><rect x="287.3" y="661.98" width="15.399999999999977" height="9.91" fill="url(#band)"/><rect x="287.3" y="671.88" width="15.399999999999977" height="9.91" fill="url(#band)"/><rect x="287.3" y="681.79" width="15.399999999999977" height="9.91" fill="url(#band)"/><rect x="287.3" y="691.70" width="15.399999999999977" height="9.91" fill="url(#band)"/><rect x="287.8" y="504.0" width="14.399999999999977" height="197.10000000000002" fill="none" stroke="#181818" stroke-width="1.0"/>
<text transform="translate(309.39,705.70) scale(0.9062,1)" font-size="22.30" fill="#000" font-weight="normal" stroke="#000" stroke-width="0.45">0</text>
<text transform="translate(307.53,670.10) scale(0.8665,1)" font-size="22.30" fill="#000" font-weight="normal" stroke="#000" stroke-width="0.45">50</text>
<text transform="translate(307.28,633.00) scale(0.8478,1)" font-size="22.30" fill="#000" font-weight="normal" stroke="#000" stroke-width="0.45">100</text>
<text transform="translate(307.60,595.70) scale(0.8392,1)" font-size="22.30" fill="#000" font-weight="normal" stroke="#000" stroke-width="0.45">150</text>
<text transform="translate(308.74,558.40) scale(0.8600,1)" font-size="22.30" fill="#000" font-weight="normal" stroke="#000" stroke-width="0.45">200</text>
<text transform="translate(308.74,520.90) scale(0.8600,1)" font-size="22.30" fill="#000" font-weight="normal" stroke="#000" stroke-width="0.45">250</text>
<text transform="translate(54.33,511.00) scale(1.0000,1)" font-size="22.30" fill="#000" font-weight="normal" stroke="#000" stroke-width="0.45">1</text>
<text transform="translate(35.41,610.70) scale(0.8900,1)" font-size="22.30" fill="#000" font-weight="normal" stroke="#000" stroke-width="0.45">0.5</text>
<text transform="translate(51.88,708.50) scale(1.0277,1)" font-size="22.30" fill="#000" font-weight="normal" stroke="#000" stroke-width="0.45">0</text>
<text transform="translate(68.41,724.00) scale(0.9996,1)" font-size="22.30" fill="#000" font-weight="normal" stroke="#000" stroke-width="0.45">0</text>
<text transform="translate(150.94,724.00) scale(0.8558,1)" font-size="22.30" fill="#000" font-weight="normal" stroke="#000" stroke-width="0.45">0.5</text>
<text transform="translate(248.98,724.00) scale(1.0000,1)" font-size="22.30" fill="#000" font-weight="normal" stroke="#000" stroke-width="0.45">1</text>
<text transform="translate(115.73,750.00) scale(1.0417,1)" font-size="23.30" fill="#000" font-weight="normal" stroke="#000" stroke-width="0.45">competition</text>
<text transform="translate(18.80,653.60) rotate(-90) scale(0.9921,1)" font-size="23.30" fill="#000" font-weight="normal" stroke="#000" stroke-width="0.45">mutualism</text>
<path d="M287.3 701.20h2.6M302.7 701.20h-2.6M287.3 664.00h2.6M302.7 664.00h-2.6M287.3 626.80h2.6M302.7 626.80h-2.6M287.3 589.60h2.6M302.7 589.60h-2.6M287.3 552.40h2.6M302.7 552.40h-2.6M287.3 515.20h2.6M302.7 515.20h-2.6" stroke="#000" stroke-width="1.1" fill="none"/>
<g shape-rendering="crispEdges"><rect x="478.90" y="503.50" width="9.66" height="10.41" fill="rgb(255, 0, 0)"/><rect x="488.05" y="503.50" width="9.66" height="10.41" fill="rgb(112, 0, 143)"/><rect x="497.21" y="503.50" width="9.66" height="10.41" fill="rgb(56, 0, 199)"/><rect x="506.37" y="503.50" width="9.66" height="10.41" fill="rgb(13, 0, 242)"/><rect x="515.52" y="503.50" width="9.66" height="10.41" fill="rgb(0, 0, 255)"/><rect x="524.67" y="503.50" width="9.66" height="10.41" fill="rgb(31, 31, 225)"/><rect x="533.83" y="503.50" width="9.66" height="10.41" fill="rgb(46, 46, 209)"/><rect x="542.99" y="503.50" width="9.66" height="10.41" fill="rgb(67, 67, 189)"/><rect x="552.14" y="503.50" width="9.66" height="10.41" fill="rgb(90, 90, 166)"/><rect x="561.29" y="503.50" width="9.66" height="10.41" fill="rgb(105, 105, 151)"/><rect x="570.45" y="503.50" width="9.66" height="10.41" fill="rgb(115, 115, 141)"/><rect x="579.61" y="503.50" width="9.66" height="10.41" fill="rgb(115, 115, 141)"/><rect x="588.76" y="503.50" width="9.66" height="10.41" fill="rgb(115, 115, 141)"/><rect x="597.91" y="503.50" width="9.66" height="10.41" fill="rgb(110, 110, 146)"/><rect x="607.07" y="503.50" width="9.66" height="10.41" fill="rgb(113, 113, 143)"/><rect x="616.23" y="503.50" width="9.66" height="10.41" fill="rgb(113, 113, 143)"/><rect x="625.38" y="503.50" width="9.66" height="10.41" fill="rgb(105, 105, 151)"/><rect x="634.53" y="503.50" width="9.66" height="10.41" fill="rgb(118, 118, 138)"/><rect x="643.69" y="503.50" width="9.66" height="10.41" fill="rgb(115, 115, 141)"/><rect x="652.85" y="503.50" width="9.16" height="10.41" fill="rgb(125, 125, 131)"/><rect x="478.90" y="513.40" width="9.66" height="10.41" fill="rgb(255, 0, 0)"/><rect x="488.05" y="513.40" width="9.66" height="10.41" fill="rgb(110, 0, 145)"/><rect x="497.21" y="513.40" width="9.66" height="10.41" fill="rgb(56, 0, 199)"/><rect x="506.37" y="513.40" width="9.66" height="10.41" fill="rgb(13, 0, 242)"/><rect x="515.52" y="513.40" width="9.66" height="10.41" fill="rgb(0, 0, 255)"/><rect x="524.67" y="513.40" width="9.66" height="10.41" fill="rgb(33, 33, 222)"/><rect x="533.83" y="513.40" width="9.66" height="10.41" fill="rgb(44, 44, 211)"/><rect x="542.99" y="513.40" width="9.66" height="10.41" fill="rgb(73, 73, 182)"/><rect x="552.14" y="513.40" width="9.66" height="10.41" fill="rgb(78, 78, 178)"/><rect x="561.29" y="513.40" width="9.66" height="10.41" fill="rgb(99, 99, 157)"/><rect x="570.45" y="513.40" width="9.66" height="10.41" fill="rgb(111, 111, 145)"/><rect x="579.61" y="513.40" width="9.66" height="10.41" fill="rgb(104, 104, 151)"/><rect x="588.76" y="513.40" width="9.66" height="10.41" fill="rgb(116, 116, 140)"/><rect x="597.91" y="513.40" width="9.66" height="10.41" fill="rgb(103, 103, 153)"/><rect x="607.07" y="513.40" width="9.66" height="10.41" fill="rgb(117, 117, 139)"/><rect x="616.23" y="513.40" width="9.66" height="10.41" fill="rgb(111, 111, 145)"/><rect x="625.38" y="513.40" width="9.66" height="10.41" fill="rgb(107, 107, 149)"/><rect x="634.53" y="513.40" width="9.66" height="10.41" fill="rgb(108, 108, 148)"/><rect x="643.69" y="513.40" width="9.66" height="10.41" fill="rgb(104, 104, 152)"/><rect x="652.85" y="513.40" width="9.16" height="10.41" fill="rgb(122, 122, 134)"/><rect x="478.90" y="523.31" width="9.66" height="10.41" fill="rgb(255, 0, 0)"/><rect x="488.05" y="523.31" width="9.66" height="10.41" fill="rgb(107, 0, 148)"/><rect x="497.21" y="523.31" width="9.66" height="10.41" fill="rgb(56, 0, 199)"/><rect x="506.37" y="523.31" width="9.66" height="10.41" fill="rgb(13, 0, 242)"/><rect x="515.52" y="523.31" width="9.66" height="10.41" fill="rgb(0, 0, 255)"/><rect x="524.67" y="523.31" width="9.66" height="10.41" fill="rgb(30, 30, 225)"/><rect x="533.83" y="523.31" width="9.66" height="10.41" fill="rgb(37, 37, 218)"/><rect x="542.99" y="523.31" width="9.66" height="10.41" fill="rgb(52, 52, 203)"/><rect x="552.14" y="523.31" width="9.66" height="10.41" fill="rgb(73, 73, 182)"/><rect x="561.29" y="523.31" width="9.66" height="10.41" fill="rgb(92, 92, 164)"/><rect x="570.45" y="523.31" width="9.66" height="10.41" fill="rgb(92, 92, 164)"/><rect x="579.61" y="523.31" width="9.66" height="10.41" fill="rgb(101, 101, 154)"/><rect x="588.76" y="523.31" width="9.66" height="10.41" fill="rgb(102, 102, 154)"/><rect x="597.91" y="523.31" width="9.66" height="10.41" fill="rgb(99, 99, 157)"/><rect x="607.07" y="523.31" width="9.66" height="10.41" fill="rgb(104, 104, 152)"/><rect x="616.23" y="523.31" width="9.66" height="10.41" fill="rgb(105, 105, 151)"/><rect x="625.38" y="523.31" width="9.66" height="10.41" fill="rgb(106, 106, 150)"/><rect x="634.53" y="523.31" width="9.66" height="10.41" fill="rgb(108, 108, 148)"/><rect x="643.69" y="523.31" width="9.66" height="10.41" fill="rgb(108, 108, 148)"/><rect x="652.85" y="523.31" width="9.16" height="10.41" fill="rgb(112, 112, 144)"/><rect x="478.90" y="533.22" width="9.66" height="10.41" fill="rgb(255, 0, 0)"/><rect x="488.05" y="533.22" width="9.66" height="10.41" fill="rgb(105, 0, 150)"/><rect x="497.21" y="533.22" width="9.66" height="10.41" fill="rgb(56, 0, 199)"/><rect x="506.37" y="533.22" width="9.66" height="10.41" fill="rgb(13, 0, 242)"/><rect x="515.52" y="533.22" width="9.66" height="10.41" fill="rgb(0, 0, 255)"/><rect x="524.67" y="533.22" width="9.66" height="10.41" fill="rgb(23, 23, 232)"/><rect x="533.83" y="533.22" width="9.66" height="10.41" fill="rgb(39, 39, 216)"/><rect x="542.99" y="533.22" width="9.66" height="10.41" fill="rgb(63, 63, 192)"/><rect x="552.14" y="533.22" width="9.66" height="10.41" fill="rgb(68, 68, 188)"/><rect x="561.29" y="533.22" width="9.66" height="10.41" fill="rgb(87, 87, 169)"/><rect x="570.45" y="533.22" width="9.66" height="10.41" fill="rgb(86, 86, 170)"/><rect x="579.61" y="533.22" width="9.66" height="10.41" fill="rgb(97, 97, 159)"/><rect x="588.76" y="533.22" width="9.66" height="10.41" fill="rgb(96, 96, 160)"/><rect x="597.91" y="533.22" width="9.66" height="10.41" fill="rgb(89, 89, 167)"/><rect x="607.07" y="533.22" width="9.66" height="10.41" fill="rgb(93, 93, 163)"/><rect x="616.23" y="533.22" width="9.66" height="10.41" fill="rgb(100, 100, 156)"/><rect x="625.38" y="533.22" width="9.66" height="10.41" fill="rgb(96, 96, 160)"/><rect x="634.53" y="533.22" width="9.66" height="10.41" fill="rgb(103, 103, 153)"/><rect x="643.69" y="533.22" width="9.66" height="10.41" fill="rgb(104, 104, 151)"/><rect x="652.85" y="533.22" width="9.16" height="10.41" fill="rgb(119, 119, 137)"/><rect x="478.90" y="543.12" width="9.66" height="10.41" fill="rgb(255, 0, 0)"/><rect x="488.05" y="543.12" width="9.66" height="10.41" fill="rgb(102, 0, 153)"/><rect x="497.21" y="543.12" width="9.66" height="10.41" fill="rgb(56, 0, 199)"/><rect x="506.37" y="543.12" width="9.66" height="10.41" fill="rgb(13, 0, 242)"/><rect x="515.52" y="543.12" width="9.66" height="10.41" fill="rgb(0, 0, 255)"/><rect x="524.67" y="543.12" width="9.66" height="10.41" fill="rgb(15, 15, 240)"/><rect x="533.83" y="543.12" width="9.66" height="10.41" fill="rgb(31, 31, 225)"/><rect x="542.99" y="543.12" width="9.66" height="10.41" fill="rgb(56, 56, 199)"/><rect x="552.14" y="543.12" width="9.66" height="10.41" fill="rgb(59, 59, 197)"/><rect x="561.29" y="543.12" width="9.66" height="10.41" fill="rgb(74, 74, 181)"/><rect x="570.45" y="543.12" width="9.66" height="10.41" fill="rgb(84, 84, 171)"/><rect x="579.61" y="543.12" width="9.66" height="10.41" fill="rgb(90, 90, 166)"/><rect x="588.76" y="543.12" width="9.66" height="10.41" fill="rgb(90, 90, 166)"/><rect x="597.91" y="543.12" width="9.66" height="10.41" fill="rgb(90, 90, 166)"/><rect x="607.07" y="543.12" width="9.66" height="10.41" fill="rgb(95, 95, 161)"/><rect x="616.23" y="543.12" width="9.66" height="10.41" fill="rgb(95, 95, 161)"/><rect x="625.38" y="543.12" width="9.66" height="10.41" fill="rgb(95, 95, 161)"/><rect x="634.53" y="543.12" width="9.66" height="10.41" fill="rgb(102, 102, 153)"/><rect x="643.69" y="543.12" width="9.66" height="10.41" fill="rgb(100, 100, 156)"/><rect x="652.85" y="543.12" width="9.16" height="10.41" fill="rgb(108, 108, 148)"/><rect x="478.90" y="553.02" width="9.66" height="10.41" fill="rgb(255, 0, 0)"/><rect x="488.05" y="553.02" width="9.66" height="10.41" fill="rgb(138, 0, 117)"/><rect x="497.21" y="553.02" width="9.66" height="10.41" fill="rgb(61, 0, 194)"/><rect x="506.37" y="553.02" width="9.66" height="10.41" fill="rgb(15, 0, 240)"/><rect x="515.52" y="553.02" width="9.66" height="10.41" fill="rgb(3, 0, 252)"/><rect x="524.67" y="553.02" width="9.66" height="10.41" fill="rgb(0, 0, 255)"/><rect x="533.83" y="553.02" width="9.66" height="10.41" fill="rgb(20, 20, 235)"/><rect x="542.99" y="553.02" width="9.66" height="10.41" fill="rgb(36, 36, 219)"/><rect x="552.14" y="553.02" width="9.66" height="10.41" fill="rgb(56, 56, 199)"/><rect x="561.29" y="553.02" width="9.66" height="10.41" fill="rgb(64, 64, 192)"/><rect x="570.45" y="553.02" width="9.66" height="10.41" fill="rgb(74, 74, 181)"/><rect x="579.61" y="553.02" width="9.66" height="10.41" fill="rgb(82, 82, 174)"/><rect x="588.76" y="553.02" width="9.66" height="10.41" fill="rgb(82, 82, 174)"/><rect x="597.91" y="553.02" width="9.66" height="10.41" fill="rgb(82, 82, 174)"/><rect x="607.07" y="553.02" width="9.66" height="10.41" fill="rgb(87, 87, 169)"/><rect x="616.23" y="553.02" width="9.66" height="10.41" fill="rgb(87, 87, 169)"/><rect x="625.38" y="553.02" width="9.66" height="10.41" fill="rgb(84, 84, 171)"/><rect x="634.53" y="553.02" width="9.66" height="10.41" fill="rgb(100, 100, 156)"/><rect x="643.69" y="553.02" width="9.66" height="10.41" fill="rgb(90, 90, 166)"/><rect x="652.85" y="553.02" width="9.16" height="10.41" fill="rgb(95, 95, 161)"/><rect x="478.90" y="562.93" width="9.66" height="10.41" fill="rgb(255, 0, 0)"/><rect x="488.05" y="562.93" width="9.66" height="10.41" fill="rgb(144, 0, 111)"/><rect x="497.21" y="562.93" width="9.66" height="10.41" fill="rgb(65, 0, 190)"/><rect x="506.37" y="562.93" width="9.66" height="10.41" fill="rgb(18, 0, 237)"/><rect x="515.52" y="562.93" width="9.66" height="10.41" fill="rgb(3, 0, 252)"/><rect x="524.67" y="562.93" width="9.66" height="10.41" fill="rgb(0, 0, 255)"/><rect x="533.83" y="562.93" width="9.66" height="10.41" fill="rgb(13, 13, 242)"/><rect x="542.99" y="562.93" width="9.66" height="10.41" fill="rgb(25, 25, 230)"/><rect x="552.14" y="562.93" width="9.66" height="10.41" fill="rgb(38, 38, 217)"/><rect x="561.29" y="562.93" width="9.66" height="10.41" fill="rgb(49, 49, 206)"/><rect x="570.45" y="562.93" width="9.66" height="10.41" fill="rgb(65, 65, 191)"/><rect x="579.61" y="562.93" width="9.66" height="10.41" fill="rgb(73, 73, 182)"/><rect x="588.76" y="562.93" width="9.66" height="10.41" fill="rgb(70, 70, 186)"/><rect x="597.91" y="562.93" width="9.66" height="10.41" fill="rgb(67, 67, 189)"/><rect x="607.07" y="562.93" width="9.66" height="10.41" fill="rgb(80, 80, 176)"/><rect x="616.23" y="562.93" width="9.66" height="10.41" fill="rgb(84, 84, 171)"/><rect x="625.38" y="562.93" width="9.66" height="10.41" fill="rgb(73, 73, 182)"/><rect x="634.53" y="562.93" width="9.66" height="10.41" fill="rgb(96, 96, 160)"/><rect x="643.69" y="562.93" width="9.66" height="10.41" fill="rgb(89, 89, 166)"/><rect x="652.85" y="562.93" width="9.16" height="10.41" fill="rgb(85, 85, 171)"/><rect x="478.90" y="572.84" width="9.66" height="10.41" fill="rgb(255, 0, 0)"/><rect x="488.05" y="572.84" width="9.66" height="10.41" fill="rgb(150, 0, 105)"/><rect x="497.21" y="572.84" width="9.66" height="10.41" fill="rgb(69, 0, 186)"/><rect x="506.37" y="572.84" width="9.66" height="10.41" fill="rgb(20, 0, 235)"/><rect x="515.52" y="572.84" width="9.66" height="10.41" fill="rgb(4, 0, 251)"/><rect x="524.67" y="572.84" width="9.66" height="10.41" fill="rgb(0, 0, 255)"/><rect x="533.83" y="572.84" width="9.66" height="10.41" fill="rgb(11, 11, 244)"/><rect x="542.99" y="572.84" width="9.66" height="10.41" fill="rgb(21, 21, 234)"/><rect x="552.14" y="572.84" width="9.66" height="10.41" fill="rgb(29, 29, 226)"/><rect x="561.29" y="572.84" width="9.66" height="10.41" fill="rgb(43, 43, 212)"/><rect x="570.45" y="572.84" width="9.66" height="10.41" fill="rgb(50, 50, 206)"/><rect x="579.61" y="572.84" width="9.66" height="10.41" fill="rgb(69, 69, 187)"/><rect x="588.76" y="572.84" width="9.66" height="10.41" fill="rgb(55, 55, 201)"/><rect x="597.91" y="572.84" width="9.66" height="10.41" fill="rgb(51, 51, 204)"/><rect x="607.07" y="572.84" width="9.66" height="10.41" fill="rgb(60, 60, 196)"/><rect x="616.23" y="572.84" width="9.66" height="10.41" fill="rgb(60, 60, 196)"/><rect x="625.38" y="572.84" width="9.66" height="10.41" fill="rgb(69, 69, 186)"/><rect x="634.53" y="572.84" width="9.66" height="10.41" fill="rgb(78, 78, 178)"/><rect x="643.69" y="572.84" width="9.66" height="10.41" fill="rgb(68, 68, 188)"/><rect x="652.85" y="572.84" width="9.16" height="10.41" fill="rgb(74, 74, 182)"/><rect x="478.90" y="582.74" width="9.66" height="10.41" fill="rgb(255, 0, 0)"/><rect x="488.05" y="582.74" width="9.66" height="10.41" fill="rgb(157, 0, 98)"/><rect x="497.21" y="582.74" width="9.66" height="10.41" fill="rgb(73, 0, 182)"/><rect x="506.37" y="582.74" width="9.66" height="10.41" fill="rgb(23, 0, 232)"/><rect x="515.52" y="582.74" width="9.66" height="10.41" fill="rgb(4, 0, 251)"/><rect x="524.67" y="582.74" width="9.66" height="10.41" fill="rgb(0, 0, 255)"/><rect x="533.83" y="582.74" width="9.66" height="10.41" fill="rgb(5, 5, 250)"/><rect x="542.99" y="582.74" width="9.66" height="10.41" fill="rgb(7, 7, 248)"/><rect x="552.14" y="582.74" width="9.66" height="10.41" fill="rgb(18, 18, 237)"/><rect x="561.29" y="582.74" width="9.66" height="10.41" fill="rgb(27, 27, 228)"/><rect x="570.45" y="582.74" width="9.66" height="10.41" fill="rgb(41, 41, 214)"/><rect x="579.61" y="582.74" width="9.66" height="10.41" fill="rgb(50, 50, 205)"/><rect x="588.76" y="582.74" width="9.66" height="10.41" fill="rgb(40, 40, 215)"/><rect x="597.91" y="582.74" width="9.66" height="10.41" fill="rgb(36, 36, 220)"/><rect x="607.07" y="582.74" width="9.66" height="10.41" fill="rgb(56, 56, 199)"/><rect x="616.23" y="582.74" width="9.66" height="10.41" fill="rgb(57, 57, 199)"/><rect x="625.38" y="582.74" width="9.66" height="10.41" fill="rgb(48, 48, 207)"/><rect x="634.53" y="582.74" width="9.66" height="10.41" fill="rgb(69, 69, 187)"/><rect x="643.69" y="582.74" width="9.66" height="10.41" fill="rgb(70, 70, 185)"/><rect x="652.85" y="582.74" width="9.16" height="10.41" fill="rgb(67, 67, 188)"/><rect x="478.90" y="592.64" width="9.66" height="10.41" fill="rgb(255, 0, 0)"/><rect x="488.05" y="592.64" width="9.66" height="10.41" fill="rgb(163, 0, 92)"/><rect x="497.21" y="592.64" width="9.66" height="10.41" fill="rgb(77, 0, 178)"/><rect x="506.37" y="592.64" width="9.66" height="10.41" fill="rgb(26, 0, 229)"/><rect x="515.52" y="592.64" width="9.66" height="10.41" fill="rgb(5, 0, 250)"/><rect x="524.67" y="592.64" width="9.66" height="10.41" fill="rgb(0, 0, 255)"/><rect x="533.83" y="592.64" width="9.66" height="10.41" fill="rgb(0, 0, 255)"/><rect x="542.99" y="592.64" width="9.66" height="10.41" fill="rgb(0, 0, 255)"/><rect x="552.14" y="592.64" width="9.66" height="10.41" fill="rgb(0, 0, 255)"/><rect x="561.29" y="592.64" width="9.66" height="10.41" fill="rgb(10, 10, 245)"/><rect x="570.45" y="592.64" width="9.66" height="10.41" fill="rgb(26, 26, 230)"/><rect x="579.61" y="592.64" width="9.66" height="10.41" fill="rgb(41, 41, 214)"/><rect x="588.76" y="592.64" width="9.66" height="10.41" fill="rgb(26, 26, 230)"/><rect x="597.91" y="592.64" width="9.66" height="10.41" fill="rgb(26, 26, 230)"/><rect x="607.07" y="592.64" width="9.66" height="10.41" fill="rgb(41, 41, 214)"/><rect x="616.23" y="592.64" width="9.66" height="10.41" fill="rgb(46, 46, 209)"/><rect x="625.38" y="592.64" width="9.66" height="10.41" fill="rgb(41, 41, 214)"/><rect x="634.53" y="592.64" width="9.66" height="10.41" fill="rgb(61, 61, 194)"/><rect x="643.69" y="592.64" width="9.66" height="10.41" fill="rgb(56, 56, 199)"/><rect x="652.85" y="592.64" width="9.16" height="10.41" fill="rgb(61, 61, 194)"/><rect x="478.90" y="602.55" width="9.66" height="10.41" fill="rgb(255, 0, 0)"/><rect x="488.05" y="602.55" width="9.66" height="10.41" fill="rgb(173, 0, 82)"/><rect x="497.21" y="602.55" width="9.66" height="10.41" fill="rgb(97, 0, 158)"/><rect x="506.37" y="602.55" width="9.66" height="10.41" fill="rgb(56, 0, 199)"/><rect x="515.52" y="602.55" width="9.66" height="10.41" fill="rgb(46, 0, 209)"/><rect x="524.67" y="602.55" width="9.66" height="10.41" fill="rgb(15, 0, 240)"/><rect x="533.83" y="602.55" width="9.66" height="10.41" fill="rgb(5, 0, 250)"/><rect x="542.99" y="602.55" width="9.66" height="10.41" fill="rgb(5, 0, 250)"/><rect x="552.14" y="602.55" width="9.66" height="10.41" fill="rgb(5, 0, 250)"/><rect x="561.29" y="602.55" width="9.66" height="10.41" fill="rgb(5, 0, 250)"/><rect x="570.45" y="602.55" width="9.66" height="10.41" fill="rgb(15, 15, 240)"/><rect x="579.61" y="602.55" width="9.66" height="10.41" fill="rgb(26, 26, 230)"/><rect x="588.76" y="602.55" width="9.66" height="10.41" fill="rgb(26, 26, 230)"/><rect x="597.91" y="602.55" width="9.66" height="10.41" fill="rgb(31, 31, 225)"/><rect x="607.07" y="602.55" width="9.66" height="10.41" fill="rgb(41, 41, 214)"/><rect x="616.23" y="602.55" width="9.66" height="10.41" fill="rgb(51, 51, 204)"/><rect x="625.38" y="602.55" width="9.66" height="10.41" fill="rgb(36, 36, 219)"/><rect x="634.53" y="602.55" width="9.66" height="10.41" fill="rgb(41, 41, 214)"/><rect x="643.69" y="602.55" width="9.66" height="10.41" fill="rgb(61, 61, 194)"/><rect x="652.85" y="602.55" width="9.16" height="10.41" fill="rgb(51, 51, 204)"/><rect x="478.90" y="612.46" width="9.66" height="10.41" fill="rgb(255, 0, 0)"/><rect x="488.05" y="612.46" width="9.66" height="10.41" fill="rgb(196, 0, 59)"/><rect x="497.21" y="612.46" width="9.66" height="10.41" fill="rgb(129, 0, 126)"/><rect x="506.37" y="612.46" width="9.66" height="10.41" fill="rgb(85, 0, 170)"/><rect x="515.52" y="612.46" width="9.66" height="10.41" fill="rgb(66, 0, 189)"/><rect x="524.67" y="612.46" width="9.66" height="10.41" fill="rgb(46, 0, 209)"/><rect x="533.83" y="612.46" width="9.66" height="10.41" fill="rgb(26, 0, 229)"/><rect x="542.99" y="612.46" width="9.66" height="10.41" fill="rgb(20, 0, 235)"/><rect x="552.14" y="612.46" width="9.66" height="10.41" fill="rgb(18, 0, 237)"/><rect x="561.29" y="612.46" width="9.66" height="10.41" fill="rgb(10, 0, 245)"/><rect x="570.45" y="612.46" width="9.66" height="10.41" fill="rgb(5, 5, 250)"/><rect x="579.61" y="612.46" width="9.66" height="10.41" fill="rgb(12, 12, 243)"/><rect x="588.76" y="612.46" width="9.66" height="10.41" fill="rgb(6, 6, 249)"/><rect x="597.91" y="612.46" width="9.66" height="10.41" fill="rgb(15, 15, 240)"/><rect x="607.07" y="612.46" width="9.66" height="10.41" fill="rgb(19, 19, 236)"/><rect x="616.23" y="612.46" width="9.66" height="10.41" fill="rgb(21, 21, 234)"/><rect x="625.38" y="612.46" width="9.66" height="10.41" fill="rgb(23, 23, 232)"/><rect x="634.53" y="612.46" width="9.66" height="10.41" fill="rgb(32, 32, 223)"/><rect x="643.69" y="612.46" width="9.66" height="10.41" fill="rgb(46, 46, 210)"/><rect x="652.85" y="612.46" width="9.16" height="10.41" fill="rgb(40, 40, 216)"/><rect x="478.90" y="622.36" width="9.66" height="10.41" fill="rgb(255, 0, 0)"/><rect x="488.05" y="622.36" width="9.66" height="10.41" fill="rgb(219, 0, 36)"/><rect x="497.21" y="622.36" width="9.66" height="10.41" fill="rgb(161, 0, 94)"/><rect x="506.37" y="622.36" width="9.66" height="10.41" fill="rgb(115, 0, 140)"/><rect x="515.52" y="622.36" width="9.66" height="10.41" fill="rgb(87, 0, 168)"/><rect x="524.67" y="622.36" width="9.66" height="10.41" fill="rgb(66, 0, 189)"/><rect x="533.83" y="622.36" width="9.66" height="10.41" fill="rgb(56, 0, 199)"/><rect x="542.99" y="622.36" width="9.66" height="10.41" fill="rgb(46, 0, 209)"/><rect x="552.14" y="622.36" width="9.66" height="10.41" fill="rgb(41, 0, 214)"/><rect x="561.29" y="622.36" width="9.66" height="10.41" fill="rgb(15, 0, 240)"/><rect x="570.45" y="622.36" width="9.66" height="10.41" fill="rgb(5, 0, 250)"/><rect x="579.61" y="622.36" width="9.66" height="10.41" fill="rgb(5, 0, 250)"/><rect x="588.76" y="622.36" width="9.66" height="10.41" fill="rgb(5, 0, 250)"/><rect x="597.91" y="622.36" width="9.66" height="10.41" fill="rgb(0, 0, 255)"/><rect x="607.07" y="622.36" width="9.66" height="10.41" fill="rgb(0, 0, 255)"/><rect x="616.23" y="622.36" width="9.66" height="10.41" fill="rgb(0, 0, 255)"/><rect x="625.38" y="622.36" width="9.66" height="10.41" fill="rgb(20, 20, 235)"/><rect x="634.53" y="622.36" width="9.66" height="10.41" fill="rgb(20, 20, 235)"/><rect x="643.69" y="622.36" width="9.66" height="10.41" fill="rgb(26, 26, 230)"/><rect x="652.85" y="622.36" width="9.16" height="10.41" fill="rgb(31, 31, 225)"/><rect x="478.90" y="632.26" width="9.66" height="10.41" fill="rgb(255, 0, 0)"/><rect x="488.05" y="632.26" width="9.66" height="10.41" fill="rgb(237, 0, 18)"/><rect x="497.21" y="632.26" width="9.66" height="10.41" fill="rgb(185, 0, 70)"/><rect x="506.37" y="632.26" width="9.66" height="10.41" fill="rgb(138, 0, 117)"/><rect x="515.52" y="632.26" width="9.66" height="10.41" fill="rgb(103, 0, 152)"/><rect x="524.67" y="632.26" width="9.66" height="10.41" fill="rgb(80, 0, 175)"/><rect x="533.83" y="632.26" width="9.66" height="10.41" fill="rgb(71, 0, 184)"/><rect x="542.99" y="632.26" width="9.66" height="10.41" fill="rgb(62, 0, 193)"/><rect x="552.14" y="632.26" width="9.66" height="10.41" fill="rgb(56, 0, 199)"/><rect x="561.29" y="632.26" width="9.66" height="10.41" fill="rgb(46, 0, 209)"/><rect x="570.45" y="632.26" width="9.66" height="10.41" fill="rgb(26, 0, 229)"/><rect x="579.61" y="632.26" width="9.66" height="10.41" fill="rgb(23, 0, 232)"/><rect x="588.76" y="632.26" width="9.66" height="10.41" fill="rgb(15, 0, 240)"/><rect x="597.91" y="632.26" width="9.66" height="10.41" fill="rgb(8, 0, 247)"/><rect x="607.07" y="632.26" width="9.66" height="10.41" fill="rgb(20, 0, 235)"/><rect x="616.23" y="632.26" width="9.66" height="10.41" fill="rgb(8, 0, 247)"/><rect x="625.38" y="632.26" width="9.66" height="10.41" fill="rgb(10, 10, 245)"/><rect x="634.53" y="632.26" width="9.66" height="10.41" fill="rgb(9, 9, 246)"/><rect x="643.69" y="632.26" width="9.66" height="10.41" fill="rgb(25, 25, 230)"/><rect x="652.85" y="632.26" width="9.16" height="10.41" fill="rgb(12, 12, 243)"/><rect x="478.90" y="642.17" width="9.66" height="10.41" fill="rgb(255, 0, 0)"/><rect x="488.05" y="642.17" width="9.66" height="10.41" fill="rgb(255, 0, 0)"/><rect x="497.21" y="642.17" width="9.66" height="10.41" fill="rgb(209, 0, 46)"/><rect x="506.37" y="642.17" width="9.66" height="10.41" fill="rgb(161, 0, 94)"/><rect x="515.52" y="642.17" width="9.66" height="10.41" fill="rgb(120, 0, 135)"/><rect x="524.67" y="642.17" width="9.66" height="10.41" fill="rgb(94, 0, 161)"/><rect x="533.83" y="642.17" width="9.66" height="10.41" fill="rgb(87, 0, 168)"/><rect x="542.99" y="642.17" width="9.66" height="10.41" fill="rgb(79, 0, 176)"/><rect x="552.14" y="642.17" width="9.66" height="10.41" fill="rgb(71, 0, 184)"/><rect x="561.29" y="642.17" width="9.66" height="10.41" fill="rgb(66, 0, 189)"/><rect x="570.45" y="642.17" width="9.66" height="10.41" fill="rgb(46, 0, 209)"/><rect x="579.61" y="642.17" width="9.66" height="10.41" fill="rgb(41, 0, 214)"/><rect x="588.76" y="642.17" width="9.66" height="10.41" fill="rgb(26, 0, 229)"/><rect x="597.91" y="642.17" width="9.66" height="10.41" fill="rgb(15, 0, 240)"/><rect x="607.07" y="642.17" width="9.66" height="10.41" fill="rgb(41, 0, 214)"/><rect x="616.23" y="642.17" width="9.66" height="10.41" fill="rgb(15, 0, 240)"/><rect x="625.38" y="642.17" width="9.66" height="10.41" fill="rgb(5, 0, 250)"/><rect x="634.53" y="642.17" width="9.66" height="10.41" fill="rgb(5, 0, 250)"/><rect x="643.69" y="642.17" width="9.66" height="10.41" fill="rgb(5, 5, 250)"/><rect x="652.85" y="642.17" width="9.16" height="10.41" fill="rgb(0, 0, 255)"/><rect x="478.90" y="652.08" width="9.66" height="10.41" fill="rgb(255, 0, 0)"/><rect x="488.05" y="652.08" width="9.66" height="10.41" fill="rgb(255, 0, 0)"/><rect x="497.21" y="652.08" width="9.66" height="10.41" fill="rgb(235, 0, 20)"/><rect x="506.37" y="652.08" width="9.66" height="10.41" fill="rgb(199, 0, 56)"/><rect x="515.52" y="652.08" width="9.66" height="10.41" fill="rgb(161, 0, 94)"/><rect x="524.67" y="652.08" width="9.66" height="10.41" fill="rgb(120, 0, 135)"/><rect x="533.83" y="652.08" width="9.66" height="10.41" fill="rgb(99, 0, 156)"/><rect x="542.99" y="652.08" width="9.66" height="10.41" fill="rgb(89, 0, 166)"/><rect x="552.14" y="652.08" width="9.66" height="10.41" fill="rgb(79, 0, 176)"/><rect x="561.29" y="652.08" width="9.66" height="10.41" fill="rgb(71, 0, 184)"/><rect x="570.45" y="652.08" width="9.66" height="10.41" fill="rgb(51, 0, 204)"/><rect x="579.61" y="652.08" width="9.66" height="10.41" fill="rgb(46, 0, 209)"/><rect x="588.76" y="652.08" width="9.66" height="10.41" fill="rgb(36, 0, 219)"/><rect x="597.91" y="652.08" width="9.66" height="10.41" fill="rgb(41, 0, 214)"/><rect x="607.07" y="652.08" width="9.66" height="10.41" fill="rgb(36, 0, 219)"/><rect x="616.23" y="652.08" width="9.66" height="10.41" fill="rgb(26, 0, 229)"/><rect x="625.38" y="652.08" width="9.66" height="10.41" fill="rgb(5, 0, 250)"/><rect x="634.53" y="652.08" width="9.66" height="10.41" fill="rgb(5, 0, 250)"/><rect x="643.69" y="652.08" width="9.66" height="10.41" fill="rgb(5, 0, 250)"/><rect x="652.85" y="652.08" width="9.16" height="10.41" fill="rgb(5, 0, 250)"/><rect x="478.90" y="661.98" width="9.66" height="10.41" fill="rgb(255, 0, 0)"/><rect x="488.05" y="661.98" width="9.66" height="10.41" fill="rgb(255, 0, 0)"/><rect x="497.21" y="661.98" width="9.66" height="10.41" fill="rgb(245, 0, 10)"/><rect x="506.37" y="661.98" width="9.66" height="10.41" fill="rgb(214, 0, 41)"/><rect x="515.52" y="661.98" width="9.66" height="10.41" fill="rgb(186, 0, 69)"/><rect x="524.67" y="661.98" width="9.66" height="10.41" fill="rgb(161, 0, 94)"/><rect x="533.83" y="661.98" width="9.66" height="10.41" fill="rgb(135, 0, 120)"/><rect x="542.99" y="661.98" width="9.66" height="10.41" fill="rgb(115, 0, 140)"/><rect x="552.14" y="661.98" width="9.66" height="10.41" fill="rgb(99, 0, 156)"/><rect x="561.29" y="661.98" width="9.66" height="10.41" fill="rgb(89, 0, 166)"/><rect x="570.45" y="661.98" width="9.66" height="10.41" fill="rgb(77, 0, 178)"/><rect x="579.61" y="661.98" width="9.66" height="10.41" fill="rgb(61, 0, 194)"/><rect x="588.76" y="661.98" width="9.66" height="10.41" fill="rgb(51, 0, 204)"/><rect x="597.91" y="661.98" width="9.66" height="10.41" fill="rgb(51, 0, 204)"/><rect x="607.07" y="661.98" width="9.66" height="10.41" fill="rgb(79, 0, 176)"/><rect x="616.23" y="661.98" width="9.66" height="10.41" fill="rgb(46, 0, 209)"/><rect x="625.38" y="661.98" width="9.66" height="10.41" fill="rgb(56, 0, 199)"/><rect x="634.53" y="661.98" width="9.66" height="10.41" fill="rgb(36, 0, 219)"/><rect x="643.69" y="661.98" width="9.66" height="10.41" fill="rgb(10, 0, 245)"/><rect x="652.85" y="661.98" width="9.16" height="10.41" fill="rgb(46, 0, 209)"/><rect x="478.90" y="671.88" width="9.66" height="10.41" fill="rgb(255, 0, 0)"/><rect x="488.05" y="671.88" width="9.66" height="10.41" fill="rgb(255, 0, 0)"/><rect x="497.21" y="671.88" width="9.66" height="10.41" fill="rgb(255, 0, 0)"/><rect x="506.37" y="671.88" width="9.66" height="10.41" fill="rgb(235, 0, 20)"/><rect x="515.52" y="671.88" width="9.66" height="10.41" fill="rgb(209, 0, 46)"/><rect x="524.67" y="671.88" width="9.66" height="10.41" fill="rgb(199, 0, 56)"/><rect x="533.83" y="671.88" width="9.66" height="10.41" fill="rgb(166, 0, 89)"/><rect x="542.99" y="671.88" width="9.66" height="10.41" fill="rgb(140, 0, 115)"/><rect x="552.14" y="671.88" width="9.66" height="10.41" fill="rgb(130, 0, 125)"/><rect x="561.29" y="671.88" width="9.66" height="10.41" fill="rgb(115, 0, 140)"/><rect x="570.45" y="671.88" width="9.66" height="10.41" fill="rgb(130, 0, 125)"/><rect x="579.61" y="671.88" width="9.66" height="10.41" fill="rgb(77, 0, 178)"/><rect x="588.76" y="671.88" width="9.66" height="10.41" fill="rgb(56, 0, 199)"/><rect x="597.91" y="671.88" width="9.66" height="10.41" fill="rgb(56, 0, 199)"/><rect x="607.07" y="671.88" width="9.66" height="10.41" fill="rgb(56, 0, 199)"/><rect x="616.23" y="671.88" width="9.66" height="10.41" fill="rgb(46, 0, 209)"/><rect x="625.38" y="671.88" width="9.66" height="10.41" fill="rgb(41, 0, 214)"/><rect x="634.53" y="671.88" width="9.66" height="10.41" fill="rgb(31, 0, 224)"/><rect x="643.69" y="671.88" width="9.66" height="10.41" fill="rgb(26, 0, 229)"/><rect x="652.85" y="671.88" width="9.16" height="10.41" fill="rgb(31, 0, 224)"/><rect x="478.90" y="681.79" width="9.66" height="10.41" fill="rgb(255, 0, 0)"/><rect x="488.05" y="681.79" width="9.66" height="10.41" fill="rgb(255, 0, 0)"/><rect x="497.21" y="681.79" width="9.66" height="10.41" fill="rgb(255, 0, 0)"/><rect x="506.37" y="681.79" width="9.66" height="10.41" fill="rgb(245, 0, 10)"/><rect x="515.52" y="681.79" width="9.66" height="10.41" fill="rgb(224, 0, 31)"/><rect x="524.67" y="681.79" width="9.66" height="10.41" fill="rgb(204, 0, 51)"/><rect x="533.83" y="681.79" width="9.66" height="10.41" fill="rgb(176, 0, 79)"/><rect x="542.99" y="681.79" width="9.66" height="10.41" fill="rgb(150, 0, 105)"/><rect x="552.14" y="681.79" width="9.66" height="10.41" fill="rgb(130, 0, 125)"/><rect x="561.29" y="681.79" width="9.66" height="10.41" fill="rgb(120, 0, 135)"/><rect x="570.45" y="681.79" width="9.66" height="10.41" fill="rgb(99, 0, 156)"/><rect x="579.61" y="681.79" width="9.66" height="10.41" fill="rgb(94, 0, 161)"/><rect x="588.76" y="681.79" width="9.66" height="10.41" fill="rgb(105, 0, 150)"/><rect x="597.91" y="681.79" width="9.66" height="10.41" fill="rgb(99, 0, 156)"/><rect x="607.07" y="681.79" width="9.66" height="10.41" fill="rgb(79, 0, 176)"/><rect x="616.23" y="681.79" width="9.66" height="10.41" fill="rgb(77, 0, 178)"/><rect x="625.38" y="681.79" width="9.66" height="10.41" fill="rgb(61, 0, 194)"/><rect x="634.53" y="681.79" width="9.66" height="10.41" fill="rgb(46, 0, 209)"/><rect x="643.69" y="681.79" width="9.66" height="10.41" fill="rgb(31, 0, 224)"/><rect x="652.85" y="681.79" width="9.16" height="10.41" fill="rgb(69, 0, 186)"/><rect x="478.90" y="691.70" width="9.66" height="9.91" fill="rgb(255, 0, 0)"/><rect x="488.05" y="691.70" width="9.66" height="9.91" fill="rgb(255, 0, 0)"/><rect x="497.21" y="691.70" width="9.66" height="9.91" fill="rgb(255, 0, 0)"/><rect x="506.37" y="691.70" width="9.66" height="9.91" fill="rgb(255, 0, 0)"/><rect x="515.52" y="691.70" width="9.66" height="9.91" fill="rgb(255, 0, 0)"/><rect x="524.67" y="691.70" width="9.66" height="9.91" fill="rgb(214, 0, 41)"/><rect x="533.83" y="691.70" width="9.66" height="9.91" fill="rgb(199, 0, 56)"/><rect x="542.99" y="691.70" width="9.66" height="9.91" fill="rgb(186, 0, 69)"/><rect x="552.14" y="691.70" width="9.66" height="9.91" fill="rgb(150, 0, 105)"/><rect x="561.29" y="691.70" width="9.66" height="9.91" fill="rgb(135, 0, 120)"/><rect x="570.45" y="691.70" width="9.66" height="9.91" fill="rgb(140, 0, 115)"/><rect x="579.61" y="691.70" width="9.66" height="9.91" fill="rgb(130, 0, 125)"/><rect x="588.76" y="691.70" width="9.66" height="9.91" fill="rgb(110, 0, 145)"/><rect x="597.91" y="691.70" width="9.66" height="9.91" fill="rgb(120, 0, 135)"/><rect x="607.07" y="691.70" width="9.66" height="9.91" fill="rgb(94, 0, 161)"/><rect x="616.23" y="691.70" width="9.66" height="9.91" fill="rgb(84, 0, 171)"/><rect x="625.38" y="691.70" width="9.66" height="9.91" fill="rgb(77, 0, 178)"/><rect x="634.53" y="691.70" width="9.66" height="9.91" fill="rgb(61, 0, 194)"/><rect x="643.69" y="691.70" width="9.66" height="9.91" fill="rgb(79, 0, 176)"/><rect x="652.85" y="691.70" width="9.16" height="9.91" fill="rgb(66, 0, 189)"/></g>
<path d="M479.4 503.5V701.6" stroke="#1a1a1a" stroke-width="1.2" fill="none"/><path d="M478.9 503.9H662" stroke="#222" stroke-width="0.9" fill="none"/><path d="M661.4 503.5V701.6" stroke="#222" stroke-width="1.0" fill="none"/><path d="M478.9 701.4H662" stroke="#222" stroke-width="0.6" fill="none"/>
<path d="M570.45 503.5v16.3M570.45 701.6v-16.3M479.5 602.55h15.700000000000001M661.4 602.55h-15.700000000000001" stroke="#1a0a1a" stroke-width="0.75" fill="none"/>
<rect x="694.7" y="503.5" width="15.0" height="198.10000000000002" fill="url(#cb)"/>
<rect x="694.7" y="503.50" width="15.0" height="9.91" fill="url(#band)"/><rect x="694.7" y="513.40" width="15.0" height="9.91" fill="url(#band)"/><rect x="694.7" y="523.31" width="15.0" height="9.91" fill="url(#band)"/><rect x="694.7" y="533.22" width="15.0" height="9.91" fill="url(#band)"/><rect x="694.7" y="543.12" width="15.0" height="9.91" fill="url(#band)"/><rect x="694.7" y="553.02" width="15.0" height="9.91" fill="url(#band)"/><rect x="694.7" y="562.93" width="15.0" height="9.91" fill="url(#band)"/><rect x="694.7" y="572.84" width="15.0" height="9.91" fill="url(#band)"/><rect x="694.7" y="582.74" width="15.0" height="9.91" fill="url(#band)"/><rect x="694.7" y="592.64" width="15.0" height="9.91" fill="url(#band)"/><rect x="694.7" y="602.55" width="15.0" height="9.91" fill="url(#band)"/><rect x="694.7" y="612.46" width="15.0" height="9.91" fill="url(#band)"/><rect x="694.7" y="622.36" width="15.0" height="9.91" fill="url(#band)"/><rect x="694.7" y="632.26" width="15.0" height="9.91" fill="url(#band)"/><rect x="694.7" y="642.17" width="15.0" height="9.91" fill="url(#band)"/><rect x="694.7" y="652.08" width="15.0" height="9.91" fill="url(#band)"/><rect x="694.7" y="661.98" width="15.0" height="9.91" fill="url(#band)"/><rect x="694.7" y="671.88" width="15.0" height="9.91" fill="url(#band)"/><rect x="694.7" y="681.79" width="15.0" height="9.91" fill="url(#band)"/><rect x="694.7" y="691.70" width="15.0" height="9.91" fill="url(#band)"/><rect x="695.2" y="504.0" width="14.0" height="197.10000000000002" fill="none" stroke="#181818" stroke-width="1.0"/>
<text transform="translate(716.89,705.70) scale(0.9062,1)" font-size="22.30" fill="#000" font-weight="normal" stroke="#000" stroke-width="0.45">0</text>
<text transform="translate(715.03,670.10) scale(0.8665,1)" font-size="22.30" fill="#000" font-weight="normal" stroke="#000" stroke-width="0.45">50</text>
<text transform="translate(714.78,633.00) scale(0.8478,1)" font-size="22.30" fill="#000" font-weight="normal" stroke="#000" stroke-width="0.45">100</text>
<text transform="translate(715.10,595.70) scale(0.8392,1)" font-size="22.30" fill="#000" font-weight="normal" stroke="#000" stroke-width="0.45">150</text>
<text transform="translate(716.24,558.40) scale(0.8600,1)" font-size="22.30" fill="#000" font-weight="normal" stroke="#000" stroke-width="0.45">200</text>
<text transform="translate(716.24,520.90) scale(0.8600,1)" font-size="22.30" fill="#000" font-weight="normal" stroke="#000" stroke-width="0.45">250</text>
<text transform="translate(461.83,511.00) scale(1.0000,1)" font-size="22.30" fill="#000" font-weight="normal" stroke="#000" stroke-width="0.45">1</text>
<text transform="translate(442.91,610.70) scale(0.8900,1)" font-size="22.30" fill="#000" font-weight="normal" stroke="#000" stroke-width="0.45">0.5</text>
<text transform="translate(459.38,708.50) scale(1.0277,1)" font-size="22.30" fill="#000" font-weight="normal" stroke="#000" stroke-width="0.45">0</text>
<text transform="translate(479.11,724.00) scale(0.9996,1)" font-size="22.30" fill="#000" font-weight="normal" stroke="#000" stroke-width="0.45">0</text>
<text transform="translate(561.64,724.00) scale(0.8558,1)" font-size="22.30" fill="#000" font-weight="normal" stroke="#000" stroke-width="0.45">0.5</text>
<text transform="translate(659.68,724.00) scale(1.0000,1)" font-size="22.30" fill="#000" font-weight="normal" stroke="#000" stroke-width="0.45">1</text>
<text transform="translate(526.43,750.00) scale(1.0417,1)" font-size="23.30" fill="#000" font-weight="normal" stroke="#000" stroke-width="0.45">competition</text>
<text transform="translate(426.30,653.60) rotate(-90) scale(0.9921,1)" font-size="23.30" fill="#000" font-weight="normal" stroke="#000" stroke-width="0.45">mutualism</text>
<path d="M694.7 701.20h2.6M709.7 701.20h-2.6M694.7 664.00h2.6M709.7 664.00h-2.6M694.7 626.80h2.6M709.7 626.80h-2.6M694.7 589.60h2.6M709.7 589.60h-2.6M694.7 552.40h2.6M709.7 552.40h-2.6M694.7 515.20h2.6M709.7 515.20h-2.6" stroke="#000" stroke-width="1.1" fill="none"/>
</svg></body></html>
